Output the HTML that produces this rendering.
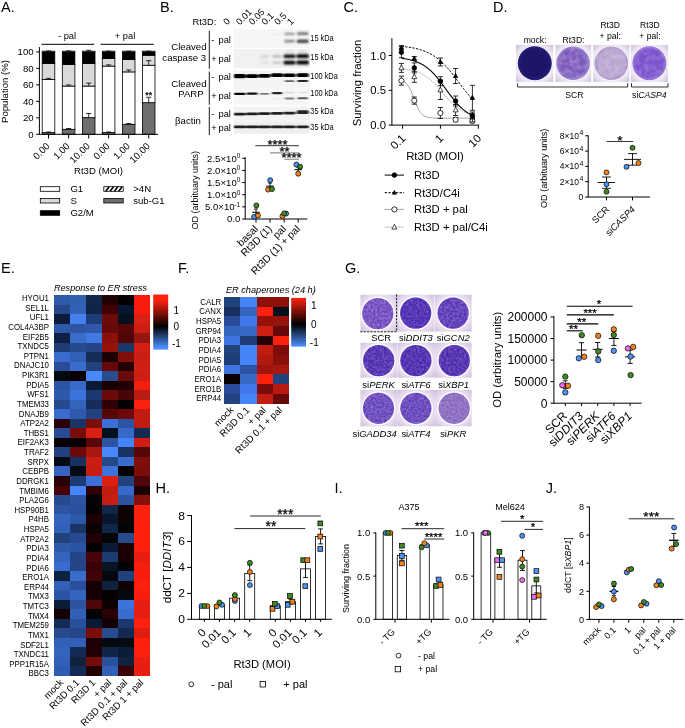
<!DOCTYPE html>
<html><head><meta charset="utf-8"><title>Figure</title>
<style>
html,body{margin:0;padding:0;background:#fff;}
svg{display:block;font-family:"Liberation Sans",sans-serif;}
</style></head><body>
<svg width="685" height="728" viewBox="0 0 685 728">
<rect x="0" y="0" width="685" height="728" fill="#fff"/>
<g id="panel_a">
<text x="1" y="11.6" font-size="14.5" text-anchor="start" fill="#000" >A.</text>
<text x="67" y="38.6" font-size="9.3" text-anchor="middle" fill="#000" >- pal</text>
<text x="125" y="38.6" font-size="9.3" text-anchor="middle" fill="#000" >+ pal</text>
<line x1="41.5" y1="44.3" x2="94.2" y2="44.3" stroke="#000" stroke-width="1" />
<line x1="100.5" y1="44.3" x2="153.8" y2="44.3" stroke="#000" stroke-width="1" />
<rect x="42.2" y="132.64" width="12.6" height="1.66" fill="#6e6e6e" stroke="#000" stroke-width="0.8" />
<rect x="42.2" y="79.39" width="12.6" height="53.25" fill="#ffffff" stroke="#000" stroke-width="0.8" />
<rect x="42.2" y="63.58" width="12.6" height="15.81" fill="#d9d9d9" stroke="#000" stroke-width="0.8" />
<rect x="42.2" y="51.93" width="12.6" height="11.65" fill="#000000" stroke="#000" stroke-width="0.8" />
<rect x="42.2" y="51.1" width="12.6" height="0.83" fill="#fff" stroke="#000" stroke-width="0.6" />
<line x1="48.5" y1="132.64" x2="48.5" y2="131.97" stroke="#000" stroke-width="0.8" />
<line x1="45.9" y1="131.97" x2="51.1" y2="131.97" stroke="#000" stroke-width="0.8" />
<line x1="48.5" y1="79.39" x2="48.5" y2="78.39" stroke="#000" stroke-width="0.8" />
<line x1="45.9" y1="78.39" x2="51.1" y2="78.39" stroke="#000" stroke-width="0.8" />
<line x1="48.5" y1="51.93" x2="48.5" y2="50.93" stroke="#000" stroke-width="0.8" />
<line x1="45.9" y1="50.93" x2="51.1" y2="50.93" stroke="#000" stroke-width="0.8" />
<rect x="62.3" y="129.31" width="12.6" height="4.99" fill="#6e6e6e" stroke="#000" stroke-width="0.8" />
<rect x="62.3" y="86.04" width="12.6" height="43.26" fill="#ffffff" stroke="#000" stroke-width="0.8" />
<rect x="62.3" y="64.41" width="12.6" height="21.63" fill="#d9d9d9" stroke="#000" stroke-width="0.8" />
<rect x="62.3" y="51.93" width="12.6" height="12.48" fill="#000000" stroke="#000" stroke-width="0.8" />
<rect x="62.3" y="51.1" width="12.6" height="0.83" fill="#fff" stroke="#000" stroke-width="0.6" />
<line x1="68.6" y1="129.31" x2="68.6" y2="128.48" stroke="#000" stroke-width="0.8" />
<line x1="66" y1="128.48" x2="71.2" y2="128.48" stroke="#000" stroke-width="0.8" />
<line x1="68.6" y1="86.04" x2="68.6" y2="84.96" stroke="#000" stroke-width="0.8" />
<line x1="66" y1="84.96" x2="71.2" y2="84.96" stroke="#000" stroke-width="0.8" />
<line x1="68.6" y1="51.93" x2="68.6" y2="50.85" stroke="#000" stroke-width="0.8" />
<line x1="66" y1="50.85" x2="71.2" y2="50.85" stroke="#000" stroke-width="0.8" />
<rect x="82.4" y="117.66" width="12.6" height="16.64" fill="#6e6e6e" stroke="#000" stroke-width="0.8" />
<rect x="82.4" y="86.04" width="12.6" height="31.62" fill="#ffffff" stroke="#000" stroke-width="0.8" />
<rect x="82.4" y="63.58" width="12.6" height="22.46" fill="#d9d9d9" stroke="#000" stroke-width="0.8" />
<rect x="82.4" y="51.52" width="12.6" height="12.06" fill="#000000" stroke="#000" stroke-width="0.8" />
<rect x="82.4" y="51.1" width="12.6" height="0.42" fill="#fff" stroke="#000" stroke-width="0.6" />
<line x1="88.7" y1="117.66" x2="88.7" y2="113.5" stroke="#000" stroke-width="0.8" />
<line x1="86.1" y1="113.5" x2="91.3" y2="113.5" stroke="#000" stroke-width="0.8" />
<line x1="88.7" y1="86.04" x2="88.7" y2="83.13" stroke="#000" stroke-width="0.8" />
<line x1="86.1" y1="83.13" x2="91.3" y2="83.13" stroke="#000" stroke-width="0.8" />
<line x1="88.7" y1="51.52" x2="88.7" y2="50.27" stroke="#000" stroke-width="0.8" />
<line x1="86.1" y1="50.27" x2="91.3" y2="50.27" stroke="#000" stroke-width="0.8" />
<rect x="102.3" y="132.64" width="12.6" height="1.66" fill="#6e6e6e" stroke="#000" stroke-width="0.8" />
<rect x="102.3" y="66.08" width="12.6" height="66.56" fill="#ffffff" stroke="#000" stroke-width="0.8" />
<rect x="102.3" y="58.59" width="12.6" height="7.49" fill="#d9d9d9" stroke="#000" stroke-width="0.8" />
<rect x="102.3" y="51.93" width="12.6" height="6.66" fill="#000000" stroke="#000" stroke-width="0.8" />
<rect x="102.3" y="51.1" width="12.6" height="0.83" fill="#fff" stroke="#000" stroke-width="0.6" />
<line x1="108.6" y1="132.64" x2="108.6" y2="131.97" stroke="#000" stroke-width="0.8" />
<line x1="106" y1="131.97" x2="111.2" y2="131.97" stroke="#000" stroke-width="0.8" />
<line x1="108.6" y1="66.08" x2="108.6" y2="64.83" stroke="#000" stroke-width="0.8" />
<line x1="106" y1="64.83" x2="111.2" y2="64.83" stroke="#000" stroke-width="0.8" />
<line x1="108.6" y1="51.93" x2="108.6" y2="51.1" stroke="#000" stroke-width="0.8" />
<line x1="106" y1="51.1" x2="111.2" y2="51.1" stroke="#000" stroke-width="0.8" />
<rect x="122.4" y="124.32" width="12.6" height="9.98" fill="#6e6e6e" stroke="#000" stroke-width="0.8" />
<rect x="122.4" y="71.9" width="12.6" height="52.42" fill="#ffffff" stroke="#000" stroke-width="0.8" />
<rect x="122.4" y="59.42" width="12.6" height="12.48" fill="#d9d9d9" stroke="#000" stroke-width="0.8" />
<rect x="122.4" y="51.93" width="12.6" height="7.49" fill="#000000" stroke="#000" stroke-width="0.8" />
<rect x="122.4" y="51.1" width="12.6" height="0.83" fill="#fff" stroke="#000" stroke-width="0.6" />
<line x1="128.7" y1="124.32" x2="128.7" y2="123.48" stroke="#000" stroke-width="0.8" />
<line x1="126.1" y1="123.48" x2="131.3" y2="123.48" stroke="#000" stroke-width="0.8" />
<line x1="128.7" y1="71.9" x2="128.7" y2="69.99" stroke="#000" stroke-width="0.8" />
<line x1="126.1" y1="69.99" x2="131.3" y2="69.99" stroke="#000" stroke-width="0.8" />
<line x1="128.7" y1="51.93" x2="128.7" y2="51.1" stroke="#000" stroke-width="0.8" />
<line x1="126.1" y1="51.1" x2="131.3" y2="51.1" stroke="#000" stroke-width="0.8" />
<rect x="142.4" y="102.68" width="12.6" height="31.62" fill="#6e6e6e" stroke="#000" stroke-width="0.8" />
<rect x="142.4" y="65.24" width="12.6" height="37.44" fill="#ffffff" stroke="#000" stroke-width="0.8" />
<rect x="142.4" y="55.26" width="12.6" height="9.98" fill="#d9d9d9" stroke="#000" stroke-width="0.8" />
<rect x="142.4" y="51.93" width="12.6" height="3.33" fill="#000000" stroke="#000" stroke-width="0.8" />
<rect x="142.4" y="51.1" width="12.6" height="0.83" fill="#fff" stroke="#000" stroke-width="0.6" />
<line x1="148.7" y1="102.68" x2="148.7" y2="97.28" stroke="#000" stroke-width="0.8" />
<line x1="146.1" y1="97.28" x2="151.3" y2="97.28" stroke="#000" stroke-width="0.8" />
<line x1="148.7" y1="65.24" x2="148.7" y2="60.67" stroke="#000" stroke-width="0.8" />
<line x1="146.1" y1="60.67" x2="151.3" y2="60.67" stroke="#000" stroke-width="0.8" />
<line x1="148.7" y1="51.93" x2="148.7" y2="51.1" stroke="#000" stroke-width="0.8" />
<line x1="146.1" y1="51.1" x2="151.3" y2="51.1" stroke="#000" stroke-width="0.8" />
<text x="148.7" y="97.74" font-size="8.9" text-anchor="middle" fill="#000" stroke="#000" stroke-width="0.25">**</text>
<line x1="39.4" y1="47.1" x2="39.4" y2="134.8" stroke="#000" stroke-width="1" />
<line x1="36.2" y1="134.3" x2="39.4" y2="134.3" stroke="#000" stroke-width="1" />
<text x="33.6" y="137.76" font-size="9.6" text-anchor="end" fill="#000" >0</text>
<line x1="36.2" y1="117.82" x2="39.4" y2="117.82" stroke="#000" stroke-width="1" />
<text x="33.6" y="121.28" font-size="9.6" text-anchor="end" fill="#000" >20</text>
<line x1="36.2" y1="101.34" x2="39.4" y2="101.34" stroke="#000" stroke-width="1" />
<text x="33.6" y="104.8" font-size="9.6" text-anchor="end" fill="#000" >40</text>
<line x1="36.2" y1="84.86" x2="39.4" y2="84.86" stroke="#000" stroke-width="1" />
<text x="33.6" y="88.32" font-size="9.6" text-anchor="end" fill="#000" >60</text>
<line x1="36.2" y1="68.38" x2="39.4" y2="68.38" stroke="#000" stroke-width="1" />
<text x="33.6" y="71.84" font-size="9.6" text-anchor="end" fill="#000" >80</text>
<line x1="36.2" y1="51.9" x2="39.4" y2="51.9" stroke="#000" stroke-width="1" />
<text x="33.6" y="55.36" font-size="9.6" text-anchor="end" fill="#000" >100</text>
<line x1="39.4" y1="134.3" x2="158" y2="134.3" stroke="#000" stroke-width="1" />
<line x1="48.5" y1="134.3" x2="48.5" y2="138.5" stroke="#000" stroke-width="1" />
<line x1="68.6" y1="134.3" x2="68.6" y2="138.5" stroke="#000" stroke-width="1" />
<line x1="88.7" y1="134.3" x2="88.7" y2="138.5" stroke="#000" stroke-width="1" />
<line x1="108.6" y1="134.3" x2="108.6" y2="138.5" stroke="#000" stroke-width="1" />
<line x1="128.7" y1="134.3" x2="128.7" y2="138.5" stroke="#000" stroke-width="1" />
<line x1="148.7" y1="134.3" x2="148.7" y2="138.5" stroke="#000" stroke-width="1" />
<text x="8.3" y="91.5" font-size="9.6" text-anchor="middle" fill="#000" transform="rotate(-90 8.3 91.5)" >Population (%)</text>
<text x="50.3" y="146.8" font-size="9.6" text-anchor="end" fill="#000" transform="rotate(-45 50.3 146.8)" >0.00</text>
<text x="70.4" y="146.8" font-size="9.6" text-anchor="end" fill="#000" transform="rotate(-45 70.4 146.8)" >1.00</text>
<text x="90.5" y="146.8" font-size="9.6" text-anchor="end" fill="#000" transform="rotate(-45 90.5 146.8)" >10.00</text>
<text x="110.4" y="146.8" font-size="9.6" text-anchor="end" fill="#000" transform="rotate(-45 110.4 146.8)" >0.00</text>
<text x="130.5" y="146.8" font-size="9.6" text-anchor="end" fill="#000" transform="rotate(-45 130.5 146.8)" >1.00</text>
<text x="150.5" y="146.8" font-size="9.6" text-anchor="end" fill="#000" transform="rotate(-45 150.5 146.8)" >10.00</text>
<text x="98.5" y="174.3" font-size="9.6" text-anchor="middle" fill="#000" >Rt3D (MOI)</text>
<rect x="40.3" y="186.7" width="19.4" height="4.6" fill="#fff" stroke="#000" stroke-width="0.8" />
<text x="70.4" y="192.4" font-size="9.6" text-anchor="start" fill="#000" >G1</text>
<rect x="40.3" y="198.4" width="19.4" height="4.6" fill="#d9d9d9" stroke="#000" stroke-width="0.8" />
<text x="70.4" y="204.1" font-size="9.6" text-anchor="start" fill="#000" >S</text>
<rect x="40.3" y="210.7" width="19.4" height="4.6" fill="#000" stroke="#000" stroke-width="0.8" />
<text x="70.4" y="216.4" font-size="9.6" text-anchor="start" fill="#000" >G2/M</text>
<rect x="103.8" y="186.7" width="19.4" height="4.6" fill="#fff" stroke="#000" stroke-width="0.8" />
<line x1="105.8" y1="191.3" x2="109.2" y2="186.7" stroke="#000" stroke-width="1.5" />
<line x1="110.1" y1="191.3" x2="113.5" y2="186.7" stroke="#000" stroke-width="1.5" />
<line x1="114.4" y1="191.3" x2="117.8" y2="186.7" stroke="#000" stroke-width="1.5" />
<line x1="118.7" y1="191.3" x2="122.1" y2="186.7" stroke="#000" stroke-width="1.5" />
<text x="133.2" y="192.4" font-size="9.6" text-anchor="start" fill="#000" >&gt;4N</text>
<rect x="103.8" y="198.4" width="19.4" height="4.6" fill="#6e6e6e" stroke="#000" stroke-width="0.8" />
<text x="133.2" y="204.1" font-size="9.6" text-anchor="start" fill="#000" >sub-G1</text>
</g>
<g id="panel_b">
<text x="160" y="11.5" font-size="14.5" text-anchor="start" fill="#000" >B.</text>
<text x="192.5" y="24.8" font-size="9.3" text-anchor="start" fill="#000" >Rt3D:</text>
<text x="227" y="25.5" font-size="9.3" text-anchor="start" fill="#000" transform="rotate(-45 227 25.5)" >0</text>
<text x="239.74" y="25.5" font-size="9.3" text-anchor="start" fill="#000" transform="rotate(-45 239.74 25.5)" >0.01</text>
<text x="252.48" y="25.5" font-size="9.3" text-anchor="start" fill="#000" transform="rotate(-45 252.48 25.5)" >0.05</text>
<text x="265.22" y="25.5" font-size="9.3" text-anchor="start" fill="#000" transform="rotate(-45 265.22 25.5)" >0.1</text>
<text x="277.96" y="25.5" font-size="9.3" text-anchor="start" fill="#000" transform="rotate(-45 277.96 25.5)" >0.5</text>
<text x="290.7" y="25.5" font-size="9.3" text-anchor="start" fill="#000" transform="rotate(-45 290.7 25.5)" >1</text>
<defs><filter id="blur" x="-20%" y="-80%" width="140%" height="260%"><feGaussianBlur stdDeviation="0.9 0.55"/></filter><filter id="blur2" x="-20%" y="-80%" width="140%" height="260%"><feGaussianBlur stdDeviation="1.2 0.8"/></filter></defs>
<rect x="233.5" y="29.2" width="76.5" height="18.6" fill="#f6f6f6" stroke="none" stroke-width="0.8" />
<rect x="233.5" y="49.1" width="76.5" height="19.2" fill="#f1f1f1" stroke="none" stroke-width="0.8" />
<rect x="233.5" y="70.5" width="76.5" height="17.1" fill="#f4f4f4" stroke="none" stroke-width="0.8" />
<rect x="233.5" y="88" width="76.5" height="16.7" fill="#f6f6f6" stroke="none" stroke-width="0.8" />
<rect x="233.5" y="106.6" width="76.5" height="14.2" fill="#f2f2f2" stroke="none" stroke-width="0.8" />
<rect x="233.5" y="121.4" width="76.5" height="12.2" fill="#efefef" stroke="none" stroke-width="0.8" />
<clipPath id="bc0"><rect x="233.5" y="29.2" width="76.5" height="18.6"/></clipPath>
<clipPath id="bc1"><rect x="233.5" y="49.1" width="76.5" height="19.2"/></clipPath>
<clipPath id="bc2"><rect x="233.5" y="70.5" width="76.5" height="17.1"/></clipPath>
<clipPath id="bc3"><rect x="233.5" y="88" width="76.5" height="16.7"/></clipPath>
<clipPath id="bc4"><rect x="233.5" y="106.6" width="76.5" height="14.2"/></clipPath>
<clipPath id="bc5"><rect x="233.5" y="121.4" width="76.5" height="12.2"/></clipPath>
<g clip-path="url(#bc0)"><g filter="url(#blur2)">
<rect x="273.1" y="33.4" width="8" height="1.6" rx="0.8" fill="#000" opacity="0.06"/>
<rect x="284.25" y="32.7" width="10.5" height="2.4" rx="1.2" fill="#000" opacity="0.42"/>
<rect x="296.95" y="32.3" width="11.5" height="2.8" rx="1.4" fill="#000" opacity="0.55"/>
<rect x="284.25" y="39.8" width="10.5" height="2.8" rx="1.4" fill="#000" opacity="0.45"/>
<rect x="296.7" y="39.4" width="12" height="3.6" rx="1.6" fill="#000" opacity="0.72"/>
</g></g>
<g clip-path="url(#bc1)"><g filter="url(#blur2)">
<rect x="285" y="51" width="9" height="1.6" rx="0.8" fill="#000" opacity="0.1"/>
<rect x="298.2" y="50.8" width="9" height="1.6" rx="0.8" fill="#000" opacity="0.14"/>
<rect x="260.15" y="55.6" width="8.5" height="2" rx="1" fill="#000" opacity="0.16"/>
<rect x="272.35" y="55.3" width="9.5" height="2.2" rx="1.1" fill="#000" opacity="0.26"/>
<rect x="283.5" y="54.6" width="12" height="3.4" rx="1.6" fill="#000" opacity="0.95"/>
<rect x="296.45" y="54.2" width="12.5" height="3.8" rx="1.6" fill="#000" opacity="1"/>
<rect x="260.15" y="61.8" width="8.5" height="2" rx="1" fill="#000" opacity="0.1"/>
<rect x="272.35" y="61.7" width="9.5" height="2.2" rx="1.1" fill="#000" opacity="0.2"/>
<rect x="283.5" y="60.7" width="12" height="3.8" rx="1.6" fill="#000" opacity="1"/>
<rect x="296.45" y="60.6" width="12.5" height="4" rx="1.6" fill="#000" opacity="1"/>
<rect x="284.5" y="61.5" width="10" height="2.2" rx="1.1" fill="#000" opacity="0.6"/>
<rect x="297.7" y="61.4" width="10" height="2.4" rx="1.2" fill="#000" opacity="0.7"/>
</g></g>
<g clip-path="url(#bc2)"><g filter="url(#blur)">
<rect x="233.6" y="74.03" width="12.2" height="4.14" rx="1.6" fill="#000" opacity="1"/>
<rect x="234.2" y="74.72" width="11" height="2.76" rx="1.38" fill="#000" opacity="1"/>
<rect x="246" y="74.21" width="12.2" height="3.78" rx="1.6" fill="#000" opacity="1"/>
<rect x="246.6" y="74.84" width="11" height="2.52" rx="1.26" fill="#000" opacity="1"/>
<rect x="258.3" y="74.1" width="12.2" height="3.6" rx="1.6" fill="#000" opacity="1"/>
<rect x="258.9" y="74.7" width="11" height="2.4" rx="1.2" fill="#000" opacity="1"/>
<rect x="271" y="73.31" width="12.2" height="3.78" rx="1.6" fill="#000" opacity="1"/>
<rect x="271.6" y="73.94" width="11" height="2.52" rx="1.26" fill="#000" opacity="1"/>
<rect x="283.4" y="73.59" width="12.2" height="3.42" rx="1.6" fill="#000" opacity="1"/>
<rect x="284" y="74.16" width="11" height="2.28" rx="1.14" fill="#000" opacity="1"/>
<rect x="296.6" y="73.21" width="12.2" height="3.78" rx="1.6" fill="#000" opacity="1"/>
<rect x="297.2" y="73.84" width="11" height="2.52" rx="1.26" fill="#000" opacity="1"/>
<rect x="284.75" y="80.3" width="9.5" height="1.8" rx="0.9" fill="#000" opacity="0.6"/>
<rect x="297.2" y="79.9" width="11" height="2.2" rx="1.1" fill="#000" opacity="0.85"/>
</g></g>
<g clip-path="url(#bc3)"><g filter="url(#blur)">
<rect x="233.95" y="92.7" width="11.5" height="2.4" rx="1.2" fill="#000" opacity="1"/>
<rect x="246.6" y="92.55" width="11" height="2.3" rx="1.15" fill="#000" opacity="0.95"/>
<rect x="259.65" y="92.95" width="9.5" height="1.9" rx="0.95" fill="#000" opacity="0.5"/>
<rect x="271.85" y="92.1" width="10.5" height="2.2" rx="1.1" fill="#000" opacity="0.85"/>
<rect x="285.25" y="91.9" width="8.5" height="1.4" rx="0.7" fill="#000" opacity="0.14"/>
<rect x="298.45" y="91.9" width="8.5" height="1.4" rx="0.7" fill="#000" opacity="0.1"/>
<rect x="273.1" y="98.2" width="8" height="1.2" rx="0.6" fill="#000" opacity="0.06"/>
<rect x="284.75" y="97.6" width="9.5" height="1.8" rx="0.9" fill="#000" opacity="0.5"/>
<rect x="297.45" y="97.3" width="10.5" height="2" rx="1" fill="#000" opacity="0.65"/>
</g></g>
<g clip-path="url(#bc4)"><g filter="url(#blur)">
<rect x="233.6" y="112.85" width="12.2" height="2.7" rx="1.35" fill="#000" opacity="0.86"/>
<rect x="246" y="112.55" width="12.2" height="2.7" rx="1.35" fill="#000" opacity="0.86"/>
<rect x="258.3" y="112.35" width="12.2" height="2.7" rx="1.35" fill="#000" opacity="0.86"/>
<rect x="271" y="112.05" width="12.2" height="2.7" rx="1.35" fill="#000" opacity="0.86"/>
<rect x="283.4" y="111.75" width="12.2" height="2.7" rx="1.35" fill="#000" opacity="0.86"/>
<rect x="296.6" y="110.3" width="12.2" height="3.8" rx="1.6" fill="#000" opacity="0.86"/>
</g></g>
<g clip-path="url(#bc5)"><g filter="url(#blur)">
<rect x="233.4" y="125.45" width="12.6" height="2.9" rx="1.45" fill="#000" opacity="0.86"/>
<rect x="245.8" y="125.45" width="12.6" height="2.9" rx="1.45" fill="#000" opacity="0.86"/>
<rect x="258.1" y="125.45" width="12.6" height="2.9" rx="1.45" fill="#000" opacity="0.86"/>
<rect x="270.8" y="125.45" width="12.6" height="2.9" rx="1.45" fill="#000" opacity="0.86"/>
<rect x="283.2" y="125.45" width="12.6" height="2.9" rx="1.45" fill="#000" opacity="0.86"/>
<rect x="296.4" y="125.45" width="12.6" height="2.9" rx="1.45" fill="#000" opacity="0.86"/>
</g></g>
<line x1="209.3" y1="30.7" x2="209.3" y2="68.7" stroke="#000" stroke-width="0.9" />
<line x1="209.3" y1="71.5" x2="209.3" y2="104.7" stroke="#000" stroke-width="0.9" />
<line x1="209.3" y1="107" x2="209.3" y2="135" stroke="#000" stroke-width="0.9" />
<text x="188.9" y="50.2" font-size="9.6" text-anchor="middle" fill="#000" >Cleaved</text>
<text x="184.2" y="61.2" font-size="9.6" text-anchor="middle" fill="#000" >caspase 3</text>
<text x="188.9" y="86.8" font-size="9.6" text-anchor="middle" fill="#000" >Cleaved</text>
<text x="191" y="96.9" font-size="9.6" text-anchor="middle" fill="#000" >PARP</text>
<text x="188" y="124.2" font-size="9.6" text-anchor="middle" fill="#000" >&#946;actin</text>
<text x="211.3" y="42.5" font-size="9.3" text-anchor="start" fill="#000" >-</text>
<text x="218.5" y="42.5" font-size="9.3" text-anchor="start" fill="#000" >pal</text>
<text x="211.3" y="62" font-size="9.3" text-anchor="start" fill="#000" >+</text>
<text x="218.5" y="62" font-size="9.3" text-anchor="start" fill="#000" >pal</text>
<text x="211.3" y="79.7" font-size="9.3" text-anchor="start" fill="#000" >-</text>
<text x="218.5" y="79.7" font-size="9.3" text-anchor="start" fill="#000" >pal</text>
<text x="211.3" y="98.6" font-size="9.3" text-anchor="start" fill="#000" >+</text>
<text x="218.5" y="98.6" font-size="9.3" text-anchor="start" fill="#000" >pal</text>
<text x="211.3" y="117" font-size="9.3" text-anchor="start" fill="#000" >-</text>
<text x="218.5" y="117" font-size="9.3" text-anchor="start" fill="#000" >pal</text>
<text x="211.3" y="131.3" font-size="9.3" text-anchor="start" fill="#000" >+</text>
<text x="218.5" y="131.3" font-size="9.3" text-anchor="start" fill="#000" >pal</text>
<text x="0" y="0" font-size="8.2" text-anchor="start" fill="#000" transform="translate(310.3 40.8) scale(0.9 1)" >15 kDa</text>
<text x="0" y="0" font-size="8.2" text-anchor="start" fill="#000" transform="translate(310.3 60.1) scale(0.9 1)" >15 kDa</text>
<text x="0" y="0" font-size="8.2" text-anchor="start" fill="#000" transform="translate(310.3 79.1) scale(0.9 1)" >100 kDa</text>
<text x="0" y="0" font-size="8.2" text-anchor="start" fill="#000" transform="translate(310.3 95.8) scale(0.9 1)" >100 kDa</text>
<text x="0" y="0" font-size="8.2" text-anchor="start" fill="#000" transform="translate(310.3 114.2) scale(0.9 1)" >35 kDa</text>
<text x="0" y="0" font-size="8.2" text-anchor="start" fill="#000" transform="translate(310.3 129.8) scale(0.9 1)" >35 kDa</text>
<line x1="245.2" y1="157.1" x2="245.2" y2="219.5" stroke="#000" stroke-width="1" />
<line x1="242.2" y1="219" x2="245.2" y2="219" stroke="#000" stroke-width="1" />
<line x1="242.2" y1="206.86" x2="245.2" y2="206.86" stroke="#000" stroke-width="1" />
<line x1="242.2" y1="194.72" x2="245.2" y2="194.72" stroke="#000" stroke-width="1" />
<line x1="242.2" y1="182.58" x2="245.2" y2="182.58" stroke="#000" stroke-width="1" />
<line x1="242.2" y1="170.44" x2="245.2" y2="170.44" stroke="#000" stroke-width="1" />
<line x1="242.2" y1="158.3" x2="245.2" y2="158.3" stroke="#000" stroke-width="1" />
<text x="240.3" y="222.4" font-size="9.6" text-anchor="end" fill="#000" >0.0</text>
<text x="240.3" y="210.26" font-size="9.6" text-anchor="end">5.0&#215;10<tspan font-size="6.4" dy="-3.6">-1</tspan></text>
<text x="240.3" y="198.12" font-size="9.6" text-anchor="end">1.0&#215;10<tspan font-size="6.4" dy="-3.6">0</tspan></text>
<text x="240.3" y="185.98" font-size="9.6" text-anchor="end">1.5&#215;10<tspan font-size="6.4" dy="-3.6">0</tspan></text>
<text x="240.3" y="173.84" font-size="9.6" text-anchor="end">2.0&#215;10<tspan font-size="6.4" dy="-3.6">0</tspan></text>
<text x="240.3" y="161.7" font-size="9.6" text-anchor="end">2.5&#215;10<tspan font-size="6.4" dy="-3.6">0</tspan></text>
<line x1="245.2" y1="219" x2="307.3" y2="219" stroke="#000" stroke-width="1" />
<line x1="256" y1="219" x2="256" y2="222.6" stroke="#000" stroke-width="1" />
<line x1="270" y1="219" x2="270" y2="222.6" stroke="#000" stroke-width="1" />
<line x1="284.2" y1="219" x2="284.2" y2="222.6" stroke="#000" stroke-width="1" />
<line x1="298.2" y1="219" x2="298.2" y2="222.6" stroke="#000" stroke-width="1" />
<text x="198.3" y="190.3" font-size="9" text-anchor="middle" fill="#000" transform="rotate(-90 198.3 190.3)" >OD (arbituary units)</text>
<text x="258.6" y="229.6" font-size="10.3" text-anchor="end" fill="#000" transform="rotate(-45 258.6 229.6)" >basal</text>
<text x="272.6" y="229.6" font-size="10.3" text-anchor="end" fill="#000" transform="rotate(-45 272.6 229.6)" >Rt3D (1)</text>
<text x="286.8" y="229.6" font-size="10.3" text-anchor="end" fill="#000" transform="rotate(-45 286.8 229.6)" >pal</text>
<text x="300.8" y="229.6" font-size="10.3" text-anchor="end" fill="#000" transform="rotate(-45 300.8 229.6)" >Rt3D (1) + pal</text>
<line x1="256" y1="209" x2="256" y2="215.6" stroke="#000" stroke-width="0.9" />
<line x1="254" y1="209" x2="258" y2="209" stroke="#000" stroke-width="0.9" />
<line x1="254" y1="215.6" x2="258" y2="215.6" stroke="#000" stroke-width="0.9" />
<line x1="252.2" y1="212.3" x2="259.8" y2="212.3" stroke="#000" stroke-width="1" />
<line x1="270" y1="183" x2="270" y2="189.2" stroke="#000" stroke-width="0.9" />
<line x1="268" y1="183" x2="272" y2="183" stroke="#000" stroke-width="0.9" />
<line x1="268" y1="189.2" x2="272" y2="189.2" stroke="#000" stroke-width="0.9" />
<line x1="266.2" y1="186.1" x2="273.8" y2="186.1" stroke="#000" stroke-width="1" />
<line x1="280.4" y1="214.5" x2="288" y2="214.5" stroke="#000" stroke-width="1" />
<line x1="298.2" y1="167" x2="298.2" y2="172.4" stroke="#000" stroke-width="0.9" />
<line x1="296.2" y1="167" x2="300.2" y2="167" stroke="#000" stroke-width="0.9" />
<line x1="296.2" y1="172.4" x2="300.2" y2="172.4" stroke="#000" stroke-width="0.9" />
<line x1="294.4" y1="169.7" x2="302" y2="169.7" stroke="#000" stroke-width="1" />
<circle cx="256.4" cy="205.4" r="2.5" fill="#3f8a22" stroke="#000" stroke-width="0.7" />
<circle cx="254.1" cy="216.9" r="2.5" fill="#4c93f2" stroke="#000" stroke-width="0.7" />
<circle cx="258" cy="215.5" r="2.5" fill="#f5821f" stroke="#000" stroke-width="0.7" />
<circle cx="270.2" cy="180.2" r="2.5" fill="#4c93f2" stroke="#000" stroke-width="0.7" />
<circle cx="268.1" cy="189.6" r="2.5" fill="#f5821f" stroke="#000" stroke-width="0.7" />
<circle cx="272" cy="189.1" r="2.5" fill="#3f8a22" stroke="#000" stroke-width="0.7" />
<circle cx="282.4" cy="216.2" r="2.5" fill="#f5821f" stroke="#000" stroke-width="0.7" />
<circle cx="286.1" cy="213.6" r="2.5" fill="#4c93f2" stroke="#000" stroke-width="0.7" />
<circle cx="284.2" cy="213.4" r="2.5" fill="#3f8a22" stroke="#000" stroke-width="0.7" />
<circle cx="296.4" cy="164.6" r="2.5" fill="#4c93f2" stroke="#000" stroke-width="0.7" />
<circle cx="300.1" cy="166.7" r="2.5" fill="#3f8a22" stroke="#000" stroke-width="0.7" />
<circle cx="298.2" cy="173.7" r="2.5" fill="#f5821f" stroke="#000" stroke-width="0.7" />
<line x1="255.3" y1="145.7" x2="299" y2="145.7" stroke="#000" stroke-width="0.8" />
<text x="277.5" y="148.63" font-size="13" text-anchor="middle" fill="#000" stroke="#000" stroke-width="0.25">****</text>
<line x1="270" y1="152.9" x2="299" y2="152.9" stroke="#555" stroke-width="0.8" />
<text x="284.5" y="155.63" font-size="13" text-anchor="middle" fill="#000" stroke="#000" stroke-width="0.25">**</text>
<line x1="284.2" y1="159.2" x2="299" y2="159.2" stroke="#555" stroke-width="0.8" />
<text x="291.5" y="162.33" font-size="13" text-anchor="middle" fill="#000" stroke="#000" stroke-width="0.25">****</text>
</g>
<g id="panel_c">
<text x="343.5" y="11.5" font-size="14.5" text-anchor="start" fill="#000" >C.</text>
<line x1="391.9" y1="38.2" x2="391.9" y2="125.6" stroke="#000" stroke-width="1" />
<line x1="388.7" y1="125.1" x2="391.9" y2="125.1" stroke="#000" stroke-width="1" />
<text x="386" y="129.17" font-size="11.3" text-anchor="end" fill="#000" >0.0</text>
<line x1="388.7" y1="90.3" x2="391.9" y2="90.3" stroke="#000" stroke-width="1" />
<text x="386" y="94.37" font-size="11.3" text-anchor="end" fill="#000" >0.5</text>
<line x1="388.7" y1="55.5" x2="391.9" y2="55.5" stroke="#000" stroke-width="1" />
<text x="386" y="59.57" font-size="11.3" text-anchor="end" fill="#000" >1.0</text>
<line x1="391.9" y1="125.1" x2="479.2" y2="125.1" stroke="#000" stroke-width="1" />
<line x1="402.6" y1="125.1" x2="402.6" y2="128.7" stroke="#000" stroke-width="1" />
<line x1="440.45" y1="125.1" x2="440.45" y2="128.7" stroke="#000" stroke-width="1" />
<line x1="478.3" y1="125.1" x2="478.3" y2="128.7" stroke="#000" stroke-width="1" />
<text x="361.3" y="83" font-size="11.3" text-anchor="middle" fill="#000" transform="rotate(-90 361.3 83)" >Surviving fraction</text>
<text x="406.2" y="139" font-size="11.3" text-anchor="end" fill="#000" transform="rotate(-45 406.2 139)" >0.1</text>
<text x="444.05" y="139" font-size="11.3" text-anchor="end" fill="#000" transform="rotate(-45 444.05 139)" >1</text>
<text x="481.9" y="139" font-size="11.3" text-anchor="end" fill="#000" transform="rotate(-45 481.9 139)" >10</text>
<text x="435" y="160" font-size="11.3" text-anchor="middle" fill="#000" >Rt3D (MOI)</text>
<polyline points="401.41,68.47 402.6,68.6 403.79,68.74 404.98,68.9 406.17,69.08 407.36,69.27 408.56,69.48 409.75,69.72 410.94,69.98 412.13,70.26 413.32,70.58 414.51,70.92 415.71,71.3 416.9,71.72 418.09,72.18 419.28,72.67 420.47,73.22 421.66,73.81 422.85,74.45 424.05,75.14 425.24,75.88 426.43,76.68 427.62,77.54 428.81,78.46 430,79.43 431.2,80.46 432.39,81.55 433.58,82.69 434.77,83.88 435.96,85.11 437.15,86.39 438.35,87.7 439.54,89.04 440.73,90.4 441.92,91.78 443.11,93.16 444.3,94.54 445.49,95.9 446.69,97.25 447.88,98.58 449.07,99.87 450.26,101.12 451.45,102.33 452.64,103.49 453.84,104.59 455.03,105.65 456.22,106.64 457.41,107.58 458.6,108.46 459.79,109.28 460.98,110.05 462.18,110.76 463.37,111.42 464.56,112.03 465.75,112.59 466.94,113.11 468.13,113.58 469.33,114.01 470.52,114.41 471.71,114.76 472.9,115.09" fill="none" stroke="#8a8a8a" stroke-width="0.8" stroke-dasharray="1.6 1.1"/>
<polyline points="401.41,80.37 402.6,80.81 403.79,81.41 404.98,82.21 406.17,83.26 407.36,84.62 408.56,86.34 409.75,88.45 410.94,90.95 412.13,93.79 413.32,96.87 414.51,100.04 415.71,103.14 416.9,106.01 418.09,108.56 419.28,110.72 420.47,112.48 421.66,113.89 422.85,114.97 424.05,115.8 425.24,116.42 426.43,116.89 427.62,117.23 428.81,117.48 430,117.66 431.2,117.79 432.39,117.89 433.58,117.96 434.77,118.01 435.96,118.04 437.15,118.07 438.35,118.09 439.54,118.1 440.73,118.11 441.92,118.12 443.11,118.13 444.3,118.13 445.49,118.13 446.69,118.13 447.88,118.14 449.07,118.14 450.26,118.14 451.45,118.14 452.64,118.14 453.84,118.14 455.03,118.14 456.22,118.14 457.41,118.14 458.6,118.14 459.79,118.14 460.98,118.14 462.18,118.14 463.37,118.14 464.56,118.14 465.75,118.14 466.94,118.14 468.13,118.14 469.33,118.14 470.52,118.14 471.71,118.14 472.9,118.14" fill="none" stroke="#8a8a8a" stroke-width="0.8"/>
<polyline points="401.41,46.35 402.6,46.46 403.79,46.58 404.98,46.7 406.17,46.84 407.36,47 408.56,47.16 409.75,47.34 410.94,47.53 412.13,47.73 413.32,47.96 414.51,48.2 415.71,48.46 416.9,48.74 418.09,49.05 419.28,49.37 420.47,49.72 421.66,50.1 422.85,50.51 424.05,50.95 425.24,51.42 426.43,51.92 427.62,52.46 428.81,53.03 430,53.65 431.2,54.31 432.39,55.01 433.58,55.75 434.77,56.54 435.96,57.38 437.15,58.26 438.35,59.2 439.54,60.19 440.73,61.22 441.92,62.31 443.11,63.45 444.3,64.64 445.49,65.88 446.69,67.17 447.88,68.5 449.07,69.88 450.26,71.3 451.45,72.75 452.64,74.24 453.84,75.76 455.03,77.31 456.22,78.87 457.41,80.45 458.6,82.04 459.79,83.64 460.98,85.23 462.18,86.82 463.37,88.4 464.56,89.95 465.75,91.49 466.94,93 468.13,94.48 469.33,95.92 470.52,97.32 471.71,98.68 472.9,100" fill="none" stroke="#000" stroke-width="1" stroke-dasharray="2.4 1.3"/>
<polyline points="401.41,58.31 402.6,58.46 403.79,58.62 404.98,58.8 406.17,59 407.36,59.22 408.56,59.46 409.75,59.72 410.94,60.01 412.13,60.32 413.32,60.67 414.51,61.05 415.71,61.46 416.9,61.91 418.09,62.4 419.28,62.93 420.47,63.51 421.66,64.14 422.85,64.82 424.05,65.55 425.24,66.34 426.43,67.19 427.62,68.1 428.81,69.07 430,70.1 431.2,71.2 432.39,72.37 433.58,73.59 434.77,74.88 435.96,76.23 437.15,77.63 438.35,79.09 439.54,80.59 440.73,82.14 441.92,83.71 443.11,85.32 444.3,86.95 445.49,88.59 446.69,90.23 447.88,91.86 449.07,93.49 450.26,95.09 451.45,96.66 452.64,98.2 453.84,99.69 455.03,101.14 456.22,102.53 457.41,103.87 458.6,105.15 459.79,106.36 460.98,107.51 462.18,108.6 463.37,109.63 464.56,110.59 465.75,111.48 466.94,112.32 468.13,113.1 469.33,113.82 470.52,114.49 471.71,115.11 472.9,115.68" fill="none" stroke="#000" stroke-width="1.1"/>
<line x1="401.4" y1="76.2" x2="401.4" y2="85.2" stroke="#000" stroke-width="0.8" />
<line x1="398.8" y1="76.2" x2="404" y2="76.2" stroke="#000" stroke-width="0.8" />
<line x1="398.8" y1="85.2" x2="404" y2="85.2" stroke="#000" stroke-width="0.8" />
<line x1="414.3" y1="97" x2="414.3" y2="104.2" stroke="#000" stroke-width="0.8" />
<line x1="411.7" y1="97" x2="416.9" y2="97" stroke="#000" stroke-width="0.8" />
<line x1="411.7" y1="104.2" x2="416.9" y2="104.2" stroke="#000" stroke-width="0.8" />
<line x1="440.4" y1="107.5" x2="440.4" y2="118.5" stroke="#000" stroke-width="0.8" />
<line x1="437.8" y1="107.5" x2="443" y2="107.5" stroke="#000" stroke-width="0.8" />
<line x1="437.8" y1="118.5" x2="443" y2="118.5" stroke="#000" stroke-width="0.8" />
<line x1="455.6" y1="117.7" x2="455.6" y2="121.7" stroke="#000" stroke-width="0.8" />
<line x1="453" y1="117.7" x2="458.2" y2="117.7" stroke="#000" stroke-width="0.8" />
<line x1="453" y1="121.7" x2="458.2" y2="121.7" stroke="#000" stroke-width="0.8" />
<line x1="472.4" y1="119.4" x2="472.4" y2="122.6" stroke="#000" stroke-width="0.8" />
<line x1="469.8" y1="119.4" x2="475" y2="119.4" stroke="#000" stroke-width="0.8" />
<line x1="469.8" y1="122.6" x2="475" y2="122.6" stroke="#000" stroke-width="0.8" />
<circle cx="401.4" cy="80.7" r="2.6" fill="#fff" stroke="#000" stroke-width="0.8" />
<circle cx="414.3" cy="100.6" r="2.6" fill="#fff" stroke="#000" stroke-width="0.8" />
<circle cx="440.4" cy="113" r="2.6" fill="#fff" stroke="#000" stroke-width="0.8" />
<circle cx="455.6" cy="119.7" r="2.6" fill="#fff" stroke="#000" stroke-width="0.8" />
<circle cx="472.4" cy="121" r="2.6" fill="#fff" stroke="#000" stroke-width="0.8" />
<line x1="401.4" y1="63.4" x2="401.4" y2="72.4" stroke="#000" stroke-width="0.8" />
<line x1="398.8" y1="63.4" x2="404" y2="63.4" stroke="#000" stroke-width="0.8" />
<line x1="398.8" y1="72.4" x2="404" y2="72.4" stroke="#000" stroke-width="0.8" />
<line x1="414.3" y1="71.3" x2="414.3" y2="82.3" stroke="#000" stroke-width="0.8" />
<line x1="411.7" y1="71.3" x2="416.9" y2="71.3" stroke="#000" stroke-width="0.8" />
<line x1="411.7" y1="82.3" x2="416.9" y2="82.3" stroke="#000" stroke-width="0.8" />
<line x1="440.4" y1="80.5" x2="440.4" y2="99.5" stroke="#000" stroke-width="0.8" />
<line x1="437.8" y1="80.5" x2="443" y2="80.5" stroke="#000" stroke-width="0.8" />
<line x1="437.8" y1="99.5" x2="443" y2="99.5" stroke="#000" stroke-width="0.8" />
<line x1="455.6" y1="104.5" x2="455.6" y2="115.5" stroke="#000" stroke-width="0.8" />
<line x1="453" y1="104.5" x2="458.2" y2="104.5" stroke="#000" stroke-width="0.8" />
<line x1="453" y1="115.5" x2="458.2" y2="115.5" stroke="#000" stroke-width="0.8" />
<line x1="472.4" y1="112" x2="472.4" y2="122" stroke="#000" stroke-width="0.8" />
<line x1="469.8" y1="112" x2="475" y2="112" stroke="#000" stroke-width="0.8" />
<line x1="469.8" y1="122" x2="475" y2="122" stroke="#000" stroke-width="0.8" />
<polygon points="401.4,65.03 398.9,69.78 403.9,69.78" fill="#fff" stroke="#000" stroke-width="0.7"/>
<polygon points="414.3,73.92 411.8,78.67 416.8,78.67" fill="#fff" stroke="#000" stroke-width="0.7"/>
<polygon points="440.4,87.12 437.9,91.88 442.9,91.88" fill="#fff" stroke="#000" stroke-width="0.7"/>
<polygon points="455.6,107.12 453.1,111.88 458.1,111.88" fill="#fff" stroke="#000" stroke-width="0.7"/>
<polygon points="472.4,114.12 469.9,118.88 474.9,118.88" fill="#fff" stroke="#000" stroke-width="0.7"/>
<line x1="401.4" y1="45.6" x2="401.4" y2="49.6" stroke="#000" stroke-width="0.8" />
<line x1="398.8" y1="45.6" x2="404" y2="45.6" stroke="#000" stroke-width="0.8" />
<line x1="398.8" y1="49.6" x2="404" y2="49.6" stroke="#000" stroke-width="0.8" />
<line x1="414.3" y1="56.5" x2="414.3" y2="60.5" stroke="#000" stroke-width="0.8" />
<line x1="411.7" y1="56.5" x2="416.9" y2="56.5" stroke="#000" stroke-width="0.8" />
<line x1="411.7" y1="60.5" x2="416.9" y2="60.5" stroke="#000" stroke-width="0.8" />
<line x1="440.4" y1="58" x2="440.4" y2="66" stroke="#000" stroke-width="0.8" />
<line x1="437.8" y1="58" x2="443" y2="58" stroke="#000" stroke-width="0.8" />
<line x1="437.8" y1="66" x2="443" y2="66" stroke="#000" stroke-width="0.8" />
<line x1="455.6" y1="68.5" x2="455.6" y2="83.5" stroke="#000" stroke-width="0.8" />
<line x1="453" y1="68.5" x2="458.2" y2="68.5" stroke="#000" stroke-width="0.8" />
<line x1="453" y1="83.5" x2="458.2" y2="83.5" stroke="#000" stroke-width="0.8" />
<line x1="472.4" y1="85.3" x2="472.4" y2="110.3" stroke="#000" stroke-width="0.8" />
<line x1="469.8" y1="85.3" x2="475" y2="85.3" stroke="#000" stroke-width="0.8" />
<line x1="469.8" y1="110.3" x2="475" y2="110.3" stroke="#000" stroke-width="0.8" />
<polygon points="401.4,45.07 399.2,49.25 403.6,49.25" fill="#000" stroke="#000" stroke-width="0.7"/>
<polygon points="414.3,55.97 412.1,60.15 416.5,60.15" fill="#000" stroke="#000" stroke-width="0.7"/>
<polygon points="440.4,59.47 438.2,63.65 442.6,63.65" fill="#000" stroke="#000" stroke-width="0.7"/>
<polygon points="455.6,73.47 453.4,77.65 457.8,77.65" fill="#000" stroke="#000" stroke-width="0.7"/>
<polygon points="472.4,95.27 470.2,99.45 474.6,99.45" fill="#000" stroke="#000" stroke-width="0.7"/>
<line x1="401.4" y1="46.7" x2="401.4" y2="57.7" stroke="#000" stroke-width="0.8" />
<line x1="398.8" y1="46.7" x2="404" y2="46.7" stroke="#000" stroke-width="0.8" />
<line x1="398.8" y1="57.7" x2="404" y2="57.7" stroke="#000" stroke-width="0.8" />
<line x1="414.3" y1="62.9" x2="414.3" y2="72.9" stroke="#000" stroke-width="0.8" />
<line x1="411.7" y1="62.9" x2="416.9" y2="62.9" stroke="#000" stroke-width="0.8" />
<line x1="411.7" y1="72.9" x2="416.9" y2="72.9" stroke="#000" stroke-width="0.8" />
<line x1="440.4" y1="76.7" x2="440.4" y2="85.7" stroke="#000" stroke-width="0.8" />
<line x1="437.8" y1="76.7" x2="443" y2="76.7" stroke="#000" stroke-width="0.8" />
<line x1="437.8" y1="85.7" x2="443" y2="85.7" stroke="#000" stroke-width="0.8" />
<line x1="455.6" y1="96" x2="455.6" y2="106" stroke="#000" stroke-width="0.8" />
<line x1="453" y1="96" x2="458.2" y2="96" stroke="#000" stroke-width="0.8" />
<line x1="453" y1="106" x2="458.2" y2="106" stroke="#000" stroke-width="0.8" />
<line x1="472.4" y1="113.3" x2="472.4" y2="118.3" stroke="#000" stroke-width="0.8" />
<line x1="469.8" y1="113.3" x2="475" y2="113.3" stroke="#000" stroke-width="0.8" />
<line x1="469.8" y1="118.3" x2="475" y2="118.3" stroke="#000" stroke-width="0.8" />
<circle cx="401.4" cy="52.2" r="2.3" fill="#000" stroke="#000" stroke-width="0.8" />
<circle cx="414.3" cy="67.9" r="2.3" fill="#000" stroke="#000" stroke-width="0.8" />
<circle cx="440.4" cy="81.2" r="2.3" fill="#000" stroke="#000" stroke-width="0.8" />
<circle cx="455.6" cy="101" r="2.3" fill="#000" stroke="#000" stroke-width="0.8" />
<circle cx="472.4" cy="115.8" r="2.3" fill="#000" stroke="#000" stroke-width="0.8" />
<line x1="384.7" y1="175.1" x2="404" y2="175.1" stroke="#000" stroke-width="1" />
<circle cx="394.4" cy="175.1" r="2.3" fill="#000" stroke="#000" stroke-width="0.8" />
<text x="414" y="179.1" font-size="11.3" text-anchor="start" fill="#000" >Rt3D</text>
<line x1="384.7" y1="192.7" x2="404" y2="192.7" stroke="#000" stroke-width="1" stroke-dasharray="2.4 1.3"/>
<polygon points="394.4,190.4 392.4,194.2 396.4,194.2" fill="#000" stroke="#000" stroke-width="0.7"/>
<text x="414" y="196.7" font-size="11.3" text-anchor="start" fill="#000" >Rt3D/C4i</text>
<line x1="384.7" y1="209.4" x2="404" y2="209.4" stroke="#8a8a8a" stroke-width="0.8" />
<circle cx="394.4" cy="209.4" r="2.6" fill="#fff" stroke="#000" stroke-width="0.8" />
<text x="414" y="213.4" font-size="11.3" text-anchor="start" fill="#000" >Rt3D + pal</text>
<line x1="384.7" y1="227.2" x2="404" y2="227.2" stroke="#8a8a8a" stroke-width="0.8" stroke-dasharray="1.6 1.1"/>
<polygon points="394.4,224.32 391.9,229.07 396.9,229.07" fill="#fff" stroke="#000" stroke-width="0.7"/>
<text x="414" y="231.2" font-size="11.3" text-anchor="start" fill="#000" >Rt3D + pal/C4i</text>
</g>
<g id="panel_d">
<text x="493" y="11.5" font-size="14.5" text-anchor="start" fill="#000" >D.</text>
<text x="535.1" y="43" font-size="8.6" text-anchor="middle" fill="#000" >mock:</text>
<text x="573.5" y="43" font-size="8.6" text-anchor="middle" fill="#000" >Rt3D:</text>
<text x="610.2" y="28.2" font-size="8.6" text-anchor="middle" fill="#000" >Rt3D</text>
<text x="610.2" y="39.4" font-size="8.6" text-anchor="middle" fill="#000" >+ pal:</text>
<text x="649.9" y="28.2" font-size="8.6" text-anchor="middle" fill="#000" >Rt3D</text>
<text x="649.9" y="39.4" font-size="8.6" text-anchor="middle" fill="#000" >+ pal:</text>
<defs><clipPath id="wc0"><circle cx="534.8" cy="63.3" r="17"/></clipPath>
<clipPath id="wt0"><rect x="516" y="44.7" width="37.4" height="37.2"/></clipPath>
<filter id="wf0" x="0" y="0" width="100%" height="100%" color-interpolation-filters="sRGB"><feTurbulence type="fractalNoise" baseFrequency="0.2" numOctaves="2" seed="3" result="n"/><feColorMatrix in="n" type="matrix" values="0 0 0 0 1.000  0 0 0 0 1.000  0 0 0 0 1.000  0 0 0 2.4 -0.8"/></filter>
<radialGradient id="wb0" cx="50%" cy="50%" r="72%"><stop offset="0.7" stop-color="#efe9f3"/><stop offset="1" stop-color="#c6b8d8"/></radialGradient>
<radialGradient id="wg0" cx="50%" cy="50%" r="50%"><stop offset="0" stop-color="#1d1668"/><stop offset="0.8" stop-color="#1d1668"/><stop offset="1" stop-color="#2a1f7a"/></radialGradient></defs>
<g clip-path="url(#wt0)">
<rect x="516" y="44.7" width="37.4" height="37.2" fill="url(#wb0)" stroke="none" stroke-width="0.8" />
<circle cx="534.8" cy="63.3" r="18.2" fill="#fdfcfe" stroke="#dcd3e8" stroke-width="0.5" />
<circle cx="534.8" cy="63.3" r="17" fill="url(#wg0)" stroke="none" stroke-width="0.7" />
</g>
<defs><clipPath id="wc1"><circle cx="573.1" cy="63.3" r="16.8"/></clipPath>
<clipPath id="wt1"><rect x="555.3" y="44.7" width="36.1" height="37.2"/></clipPath>
<filter id="wf1" x="0" y="0" width="100%" height="100%" color-interpolation-filters="sRGB"><feTurbulence type="fractalNoise" baseFrequency="0.2" numOctaves="2" seed="5" result="n"/><feColorMatrix in="n" type="matrix" values="0 0 0 0 0.714  0 0 0 0 0.635  0 0 0 0 0.855  0 0 0 2.4 -0.8"/></filter>
<radialGradient id="wb1" cx="50%" cy="50%" r="72%"><stop offset="0.7" stop-color="#efe9f3"/><stop offset="1" stop-color="#c6b8d8"/></radialGradient>
<radialGradient id="wg1" cx="50%" cy="50%" r="50%"><stop offset="0" stop-color="#7a58bc"/><stop offset="0.8" stop-color="#7a58bc"/><stop offset="1" stop-color="#9a84cc"/></radialGradient></defs>
<g clip-path="url(#wt1)">
<rect x="555.3" y="44.7" width="36.1" height="37.2" fill="url(#wb1)" stroke="none" stroke-width="0.8" />
<circle cx="573.1" cy="63.3" r="18" fill="#fdfcfe" stroke="#dcd3e8" stroke-width="0.5" />
<circle cx="573.1" cy="63.3" r="16.8" fill="url(#wg1)" stroke="none" stroke-width="0.7" />
<rect x="556.3" y="46.5" width="33.6" height="33.6" fill="#b6a2da" opacity="0.55" filter="url(#wf1)" clip-path="url(#wc1)"/>
</g>
<defs><clipPath id="wc2"><circle cx="611.3" cy="63.3" r="16.8"/></clipPath>
<clipPath id="wt2"><rect x="593.1" y="44.7" width="36.5" height="37.2"/></clipPath>
<filter id="wf2" x="0" y="0" width="100%" height="100%" color-interpolation-filters="sRGB"><feTurbulence type="fractalNoise" baseFrequency="0.2" numOctaves="2" seed="8" result="n"/><feColorMatrix in="n" type="matrix" values="0 0 0 0 0.839  0 0 0 0 0.784  0 0 0 0 0.894  0 0 0 2.4 -0.8"/></filter>
<radialGradient id="wb2" cx="50%" cy="50%" r="72%"><stop offset="0.7" stop-color="#efe9f3"/><stop offset="1" stop-color="#c6b8d8"/></radialGradient>
<radialGradient id="wg2" cx="50%" cy="50%" r="50%"><stop offset="0" stop-color="#b9a4d0"/><stop offset="0.8" stop-color="#b9a4d0"/><stop offset="1" stop-color="#a88cc8"/></radialGradient></defs>
<g clip-path="url(#wt2)">
<rect x="593.1" y="44.7" width="36.5" height="37.2" fill="url(#wb2)" stroke="none" stroke-width="0.8" />
<circle cx="611.3" cy="63.3" r="18" fill="#fdfcfe" stroke="#dcd3e8" stroke-width="0.5" />
<circle cx="611.3" cy="63.3" r="16.8" fill="url(#wg2)" stroke="none" stroke-width="0.7" />
<rect x="594.5" y="46.5" width="33.6" height="33.6" fill="#d6c8e4" opacity="0.5" filter="url(#wf2)" clip-path="url(#wc2)"/>
</g>
<defs><clipPath id="wc3"><circle cx="649.4" cy="63.3" r="17"/></clipPath>
<clipPath id="wt3"><rect x="630.7" y="44.7" width="37.7" height="37.2"/></clipPath>
<filter id="wf3" x="0" y="0" width="100%" height="100%" color-interpolation-filters="sRGB"><feTurbulence type="fractalNoise" baseFrequency="0.2" numOctaves="2" seed="11" result="n"/><feColorMatrix in="n" type="matrix" values="0 0 0 0 0.651  0 0 0 0 0.541  0 0 0 0 0.878  0 0 0 2.4 -0.8"/></filter>
<radialGradient id="wb3" cx="50%" cy="50%" r="72%"><stop offset="0.7" stop-color="#efe9f3"/><stop offset="1" stop-color="#c6b8d8"/></radialGradient>
<radialGradient id="wg3" cx="50%" cy="50%" r="50%"><stop offset="0" stop-color="#7a52cc"/><stop offset="0.8" stop-color="#7a52cc"/><stop offset="1" stop-color="#987cd6"/></radialGradient></defs>
<g clip-path="url(#wt3)">
<rect x="630.7" y="44.7" width="37.7" height="37.2" fill="url(#wb3)" stroke="none" stroke-width="0.8" />
<circle cx="649.4" cy="63.3" r="18.2" fill="#fdfcfe" stroke="#dcd3e8" stroke-width="0.5" />
<circle cx="649.4" cy="63.3" r="17" fill="url(#wg3)" stroke="none" stroke-width="0.7" />
<rect x="632.4" y="46.3" width="34" height="34" fill="#a68ae0" opacity="0.55" filter="url(#wf3)" clip-path="url(#wc3)"/>
</g>
<polyline points="517.6,83.2 517.6,87.0 627.7,87.0 627.7,83.2" fill="none" stroke="#000" stroke-width="0.8"/>
<polyline points="631.5,83.2 631.5,87.0 668,87.0 668,83.2" fill="none" stroke="#000" stroke-width="0.8"/>
<text x="574.3" y="97.6" font-size="8.6" text-anchor="middle" fill="#000" >SCR</text>
<text x="649.3" y="97.6" font-size="8.6" text-anchor="middle">si<tspan font-style="italic">CASP4</tspan></text>
<line x1="588.2" y1="135.3" x2="588.2" y2="197.5" stroke="#000" stroke-width="1" />
<line x1="585.2" y1="197" x2="588.2" y2="197" stroke="#000" stroke-width="1" />
<line x1="585.2" y1="181.7" x2="588.2" y2="181.7" stroke="#000" stroke-width="1" />
<line x1="585.2" y1="166.4" x2="588.2" y2="166.4" stroke="#000" stroke-width="1" />
<line x1="585.2" y1="151.1" x2="588.2" y2="151.1" stroke="#000" stroke-width="1" />
<line x1="585.2" y1="135.8" x2="588.2" y2="135.8" stroke="#000" stroke-width="1" />
<text x="583.3" y="200" font-size="8.5" text-anchor="end" fill="#000" >0</text>
<text x="583.3" y="184.7" font-size="8.5" text-anchor="end">2&#215;10<tspan font-size="7" dy="-3.4" dx="0.4">4</tspan></text>
<text x="583.3" y="169.4" font-size="8.5" text-anchor="end">4&#215;10<tspan font-size="7" dy="-3.4" dx="0.4">4</tspan></text>
<text x="583.3" y="154.1" font-size="8.5" text-anchor="end">6&#215;10<tspan font-size="7" dy="-3.4" dx="0.4">4</tspan></text>
<text x="583.3" y="138.8" font-size="8.5" text-anchor="end">8&#215;10<tspan font-size="7" dy="-3.4" dx="0.4">4</tspan></text>
<line x1="588.2" y1="197" x2="650" y2="197" stroke="#000" stroke-width="1" />
<line x1="606.5" y1="197" x2="606.5" y2="200.4" stroke="#000" stroke-width="1" />
<line x1="632.5" y1="197" x2="632.5" y2="200.4" stroke="#000" stroke-width="1" />
<text x="547" y="168.3" font-size="9.1" text-anchor="middle" fill="#000" transform="rotate(-90 547 168.3)" >OD (arbituary units)</text>
<text x="609.8" y="210" font-size="9.4" text-anchor="end" fill="#000" transform="rotate(-45 609.8 210)" >SCR</text>
<text x="635.8" y="210.0" font-size="9.4" text-anchor="end" transform="rotate(-45 635.8 210.0)">si<tspan font-style="italic">CASP4</tspan></text>
<line x1="606.5" y1="177" x2="606.5" y2="188.3" stroke="#000" stroke-width="0.9" />
<line x1="602.1" y1="177" x2="610.9" y2="177" stroke="#000" stroke-width="0.9" />
<line x1="602.1" y1="188.3" x2="610.9" y2="188.3" stroke="#000" stroke-width="0.9" />
<line x1="597.6" y1="182.5" x2="615.1" y2="182.5" stroke="#000" stroke-width="0.9" />
<line x1="632.5" y1="153.6" x2="632.5" y2="165.2" stroke="#000" stroke-width="0.9" />
<line x1="628.1" y1="153.6" x2="636.9" y2="153.6" stroke="#000" stroke-width="0.9" />
<line x1="628.1" y1="165.2" x2="636.9" y2="165.2" stroke="#000" stroke-width="0.9" />
<line x1="624" y1="159.4" x2="641" y2="159.4" stroke="#000" stroke-width="0.9" />
<circle cx="606.5" cy="172.4" r="2.5" fill="#f5821f" stroke="#000" stroke-width="0.7" />
<circle cx="606.5" cy="184.2" r="2.5" fill="#4c93f2" stroke="#000" stroke-width="0.7" />
<circle cx="606.5" cy="191.7" r="2.5" fill="#3f8a22" stroke="#000" stroke-width="0.7" />
<circle cx="632.5" cy="147.8" r="2.5" fill="#3f8a22" stroke="#000" stroke-width="0.7" />
<circle cx="626.5" cy="166.8" r="2.5" fill="#4c93f2" stroke="#000" stroke-width="0.7" />
<circle cx="638.5" cy="163" r="2.5" fill="#f5821f" stroke="#000" stroke-width="0.7" />
<line x1="606.7" y1="141.5" x2="633.2" y2="141.5" stroke="#222" stroke-width="0.9" />
<text x="620" y="145.08" font-size="13.5" text-anchor="middle" fill="#000" stroke="#000" stroke-width="0.25">*</text>
</g>
<g id="panel_e">
<text x="1" y="272.5" font-size="14.5" text-anchor="start" fill="#000" >E.</text>
<text x="54" y="290.6" font-size="9.1" text-anchor="start" fill="#000" font-style="italic" >Response to ER stress</text>
<g shape-rendering="crispEdges">
<rect x="53.9" y="295" width="16.1" height="9.58" fill="#2e5aa8"/>
<rect x="69.95" y="295" width="16.1" height="9.58" fill="#3060b0"/>
<rect x="86" y="295" width="16.1" height="9.58" fill="#12264a"/>
<rect x="102.05" y="295" width="16.1" height="9.58" fill="#220004"/>
<rect x="118.1" y="295" width="16.1" height="9.58" fill="#040000"/>
<rect x="134.15" y="295" width="16.1" height="9.58" fill="#f81c0c"/>
<rect x="53.9" y="304.52" width="16.1" height="9.58" fill="#24488a"/>
<rect x="69.95" y="304.52" width="16.1" height="9.58" fill="#3460b8"/>
<rect x="86" y="304.52" width="16.1" height="9.58" fill="#10244a"/>
<rect x="102.05" y="304.52" width="16.1" height="9.58" fill="#420006"/>
<rect x="118.1" y="304.52" width="16.1" height="9.58" fill="#061630"/>
<rect x="134.15" y="304.52" width="16.1" height="9.58" fill="#f81c0c"/>
<rect x="53.9" y="314.05" width="16.1" height="9.58" fill="#0c1c3a"/>
<rect x="69.95" y="314.05" width="16.1" height="9.58" fill="#4480f0"/>
<rect x="86" y="314.05" width="16.1" height="9.58" fill="#1e3c78"/>
<rect x="102.05" y="314.05" width="16.1" height="9.58" fill="#6c0a0a"/>
<rect x="118.1" y="314.05" width="16.1" height="9.58" fill="#04101e"/>
<rect x="134.15" y="314.05" width="16.1" height="9.58" fill="#d82014"/>
<rect x="53.9" y="323.57" width="16.1" height="9.58" fill="#2e58a8"/>
<rect x="69.95" y="323.57" width="16.1" height="9.58" fill="#2c54a0"/>
<rect x="86" y="323.57" width="16.1" height="9.58" fill="#3058aa"/>
<rect x="102.05" y="323.57" width="16.1" height="9.58" fill="#680808"/>
<rect x="118.1" y="323.57" width="16.1" height="9.58" fill="#580608"/>
<rect x="134.15" y="323.57" width="16.1" height="9.58" fill="#cc1e12"/>
<rect x="53.9" y="333.1" width="16.1" height="9.58" fill="#0e2044"/>
<rect x="69.95" y="333.1" width="16.1" height="9.58" fill="#3a6ccc"/>
<rect x="86" y="333.1" width="16.1" height="9.58" fill="#4078e4"/>
<rect x="102.05" y="333.1" width="16.1" height="9.58" fill="#8c100a"/>
<rect x="118.1" y="333.1" width="16.1" height="9.58" fill="#500406"/>
<rect x="134.15" y="333.1" width="16.1" height="9.58" fill="#961610"/>
<rect x="53.9" y="342.62" width="16.1" height="9.58" fill="#1e3c78"/>
<rect x="69.95" y="342.62" width="16.1" height="9.58" fill="#264a90"/>
<rect x="86" y="342.62" width="16.1" height="9.58" fill="#244688"/>
<rect x="102.05" y="342.62" width="16.1" height="9.58" fill="#94140c"/>
<rect x="118.1" y="342.62" width="16.1" height="9.58" fill="#1c3868"/>
<rect x="134.15" y="342.62" width="16.1" height="9.58" fill="#d42014"/>
<rect x="53.9" y="352.15" width="16.1" height="9.58" fill="#3a6cd0"/>
<rect x="69.95" y="352.15" width="16.1" height="9.58" fill="#3260b8"/>
<rect x="86" y="352.15" width="16.1" height="9.58" fill="#162c58"/>
<rect x="102.05" y="352.15" width="16.1" height="9.58" fill="#1c0004"/>
<rect x="118.1" y="352.15" width="16.1" height="9.58" fill="#800e0a"/>
<rect x="134.15" y="352.15" width="16.1" height="9.58" fill="#cc1e12"/>
<rect x="53.9" y="361.68" width="16.1" height="9.58" fill="#284c98"/>
<rect x="69.95" y="361.68" width="16.1" height="9.58" fill="#3a6ccc"/>
<rect x="86" y="361.68" width="16.1" height="9.58" fill="#22427e"/>
<rect x="102.05" y="361.68" width="16.1" height="9.58" fill="#64080a"/>
<rect x="118.1" y="361.68" width="16.1" height="9.58" fill="#240006"/>
<rect x="134.15" y="361.68" width="16.1" height="9.58" fill="#d02014"/>
<rect x="53.9" y="371.2" width="16.1" height="9.58" fill="#040a0e"/>
<rect x="69.95" y="371.2" width="16.1" height="9.58" fill="#080000"/>
<rect x="86" y="371.2" width="16.1" height="9.58" fill="#4888fc"/>
<rect x="102.05" y="371.2" width="16.1" height="9.58" fill="#284c8c"/>
<rect x="118.1" y="371.2" width="16.1" height="9.58" fill="#680a0a"/>
<rect x="134.15" y="371.2" width="16.1" height="9.58" fill="#cc1e12"/>
<rect x="53.9" y="380.73" width="16.1" height="9.58" fill="#2c54a4"/>
<rect x="69.95" y="380.73" width="16.1" height="9.58" fill="#3868c8"/>
<rect x="86" y="380.73" width="16.1" height="9.58" fill="#0a1a34"/>
<rect x="102.05" y="380.73" width="16.1" height="9.58" fill="#180002"/>
<rect x="118.1" y="380.73" width="16.1" height="9.58" fill="#200004"/>
<rect x="134.15" y="380.73" width="16.1" height="9.58" fill="#f41e0e"/>
<rect x="53.9" y="390.25" width="16.1" height="9.58" fill="#2e58a8"/>
<rect x="69.95" y="390.25" width="16.1" height="9.58" fill="#3c74dc"/>
<rect x="86" y="390.25" width="16.1" height="9.58" fill="#1c3870"/>
<rect x="102.05" y="390.25" width="16.1" height="9.58" fill="#6c0a0a"/>
<rect x="118.1" y="390.25" width="16.1" height="9.58" fill="#480406"/>
<rect x="134.15" y="390.25" width="16.1" height="9.58" fill="#b81c12"/>
<rect x="53.9" y="399.77" width="16.1" height="9.58" fill="#264a90"/>
<rect x="69.95" y="399.77" width="16.1" height="9.58" fill="#3464bc"/>
<rect x="86" y="399.77" width="16.1" height="9.58" fill="#162c5a"/>
<rect x="102.05" y="399.77" width="16.1" height="9.58" fill="#300004"/>
<rect x="118.1" y="399.77" width="16.1" height="9.58" fill="#020202"/>
<rect x="134.15" y="399.77" width="16.1" height="9.58" fill="#fc200e"/>
<rect x="53.9" y="409.3" width="16.1" height="9.58" fill="#3a6cd0"/>
<rect x="69.95" y="409.3" width="16.1" height="9.58" fill="#3058ac"/>
<rect x="86" y="409.3" width="16.1" height="9.58" fill="#21427e"/>
<rect x="102.05" y="409.3" width="16.1" height="9.58" fill="#580608"/>
<rect x="118.1" y="409.3" width="16.1" height="9.58" fill="#70080a"/>
<rect x="134.15" y="409.3" width="16.1" height="9.58" fill="#c01c12"/>
<rect x="53.9" y="418.82" width="16.1" height="9.58" fill="#2c0006"/>
<rect x="69.95" y="418.82" width="16.1" height="9.58" fill="#1a3466"/>
<rect x="86" y="418.82" width="16.1" height="9.58" fill="#7c0e0a"/>
<rect x="102.05" y="418.82" width="16.1" height="9.58" fill="#3c70d8"/>
<rect x="118.1" y="418.82" width="16.1" height="9.58" fill="#2c54a4"/>
<rect x="134.15" y="418.82" width="16.1" height="9.58" fill="#c01c12"/>
<rect x="53.9" y="428.35" width="16.1" height="9.58" fill="#284c98"/>
<rect x="69.95" y="428.35" width="16.1" height="9.58" fill="#780c0a"/>
<rect x="86" y="428.35" width="16.1" height="9.58" fill="#d82012"/>
<rect x="102.05" y="428.35" width="16.1" height="9.58" fill="#04101e"/>
<rect x="118.1" y="428.35" width="16.1" height="9.58" fill="#3868c8"/>
<rect x="134.15" y="428.35" width="16.1" height="9.58" fill="#142a52"/>
<rect x="53.9" y="437.88" width="16.1" height="9.58" fill="#0a0202"/>
<rect x="69.95" y="437.88" width="16.1" height="9.58" fill="#080000"/>
<rect x="86" y="437.88" width="16.1" height="9.58" fill="#58060a"/>
<rect x="102.05" y="437.88" width="16.1" height="9.58" fill="#2c54a0"/>
<rect x="118.1" y="437.88" width="16.1" height="9.58" fill="#4484f8"/>
<rect x="134.15" y="437.88" width="16.1" height="9.58" fill="#cc1e12"/>
<rect x="53.9" y="447.4" width="16.1" height="9.58" fill="#21427e"/>
<rect x="69.95" y="447.4" width="16.1" height="9.58" fill="#6c0a0a"/>
<rect x="86" y="447.4" width="16.1" height="9.58" fill="#a81810"/>
<rect x="102.05" y="447.4" width="16.1" height="9.58" fill="#4888fc"/>
<rect x="118.1" y="447.4" width="16.1" height="9.58" fill="#1a3260"/>
<rect x="134.15" y="447.4" width="16.1" height="9.58" fill="#580608"/>
<rect x="53.9" y="456.93" width="16.1" height="9.58" fill="#040a14"/>
<rect x="69.95" y="456.93" width="16.1" height="9.58" fill="#183060"/>
<rect x="86" y="456.93" width="16.1" height="9.58" fill="#c81e12"/>
<rect x="102.05" y="456.93" width="16.1" height="9.58" fill="#264a88"/>
<rect x="118.1" y="456.93" width="16.1" height="9.58" fill="#3a6cd0"/>
<rect x="134.15" y="456.93" width="16.1" height="9.58" fill="#800e0a"/>
<rect x="53.9" y="466.45" width="16.1" height="9.58" fill="#3464c0"/>
<rect x="69.95" y="466.45" width="16.1" height="9.58" fill="#040a12"/>
<rect x="86" y="466.45" width="16.1" height="9.58" fill="#c81e12"/>
<rect x="102.05" y="466.45" width="16.1" height="9.58" fill="#3c74dc"/>
<rect x="118.1" y="466.45" width="16.1" height="9.58" fill="#020000"/>
<rect x="134.15" y="466.45" width="16.1" height="9.58" fill="#7c0c0a"/>
<rect x="53.9" y="475.98" width="16.1" height="9.58" fill="#280006"/>
<rect x="69.95" y="475.98" width="16.1" height="9.58" fill="#1e3c74"/>
<rect x="86" y="475.98" width="16.1" height="9.58" fill="#3c70d8"/>
<rect x="102.05" y="475.98" width="16.1" height="9.58" fill="#dc2010"/>
<rect x="118.1" y="475.98" width="16.1" height="9.58" fill="#22427e"/>
<rect x="134.15" y="475.98" width="16.1" height="9.58" fill="#500608"/>
<rect x="53.9" y="485.5" width="16.1" height="9.58" fill="#480006"/>
<rect x="69.95" y="485.5" width="16.1" height="9.58" fill="#4484fc"/>
<rect x="86" y="485.5" width="16.1" height="9.58" fill="#2c0006"/>
<rect x="102.05" y="485.5" width="16.1" height="9.58" fill="#c01c10"/>
<rect x="118.1" y="485.5" width="16.1" height="9.58" fill="#3868c8"/>
<rect x="134.15" y="485.5" width="16.1" height="9.58" fill="#1c0004"/>
<rect x="53.9" y="495.02" width="16.1" height="9.58" fill="#264a90"/>
<rect x="69.95" y="495.02" width="16.1" height="9.58" fill="#2c54a0"/>
<rect x="86" y="495.02" width="16.1" height="9.58" fill="#020408"/>
<rect x="102.05" y="495.02" width="16.1" height="9.58" fill="#c81e12"/>
<rect x="118.1" y="495.02" width="16.1" height="9.58" fill="#2c54a0"/>
<rect x="134.15" y="495.02" width="16.1" height="9.58" fill="#88100a"/>
<rect x="53.9" y="504.55" width="16.1" height="9.58" fill="#2c54a0"/>
<rect x="69.95" y="504.55" width="16.1" height="9.58" fill="#2a509c"/>
<rect x="86" y="504.55" width="16.1" height="9.58" fill="#040000"/>
<rect x="102.05" y="504.55" width="16.1" height="9.58" fill="#12264a"/>
<rect x="118.1" y="504.55" width="16.1" height="9.58" fill="#0c0202"/>
<rect x="134.15" y="504.55" width="16.1" height="9.58" fill="#ff200e"/>
<rect x="53.9" y="514.08" width="16.1" height="9.58" fill="#3464c0"/>
<rect x="69.95" y="514.08" width="16.1" height="9.58" fill="#2c58a8"/>
<rect x="86" y="514.08" width="16.1" height="9.58" fill="#1c0004"/>
<rect x="102.05" y="514.08" width="16.1" height="9.58" fill="#08162e"/>
<rect x="118.1" y="514.08" width="16.1" height="9.58" fill="#100204"/>
<rect x="134.15" y="514.08" width="16.1" height="9.58" fill="#fc200e"/>
<rect x="53.9" y="523.6" width="16.1" height="9.58" fill="#3260b8"/>
<rect x="69.95" y="523.6" width="16.1" height="9.58" fill="#1a3466"/>
<rect x="86" y="523.6" width="16.1" height="9.58" fill="#0c0202"/>
<rect x="102.05" y="523.6" width="16.1" height="9.58" fill="#12264a"/>
<rect x="118.1" y="523.6" width="16.1" height="9.58" fill="#020408"/>
<rect x="134.15" y="523.6" width="16.1" height="9.58" fill="#ff200e"/>
<rect x="53.9" y="533.12" width="16.1" height="9.58" fill="#22427e"/>
<rect x="69.95" y="533.12" width="16.1" height="9.58" fill="#264a90"/>
<rect x="86" y="533.12" width="16.1" height="9.58" fill="#200006"/>
<rect x="102.05" y="533.12" width="16.1" height="9.58" fill="#040608"/>
<rect x="118.1" y="533.12" width="16.1" height="9.58" fill="#264a8c"/>
<rect x="134.15" y="533.12" width="16.1" height="9.58" fill="#ff200e"/>
<rect x="53.9" y="542.65" width="16.1" height="9.58" fill="#2e58a8"/>
<rect x="69.95" y="542.65" width="16.1" height="9.58" fill="#2c54a4"/>
<rect x="86" y="542.65" width="16.1" height="9.58" fill="#040002"/>
<rect x="102.05" y="542.65" width="16.1" height="9.58" fill="#0a1a36"/>
<rect x="118.1" y="542.65" width="16.1" height="9.58" fill="#1c0004"/>
<rect x="134.15" y="542.65" width="16.1" height="9.58" fill="#ff200e"/>
<rect x="53.9" y="552.17" width="16.1" height="9.58" fill="#3464c0"/>
<rect x="69.95" y="552.17" width="16.1" height="9.58" fill="#244688"/>
<rect x="86" y="552.17" width="16.1" height="9.58" fill="#480408"/>
<rect x="102.05" y="552.17" width="16.1" height="9.58" fill="#1e3c74"/>
<rect x="118.1" y="552.17" width="16.1" height="9.58" fill="#180004"/>
<rect x="134.15" y="552.17" width="16.1" height="9.58" fill="#e81e10"/>
<rect x="53.9" y="561.7" width="16.1" height="9.58" fill="#3a6cd0"/>
<rect x="69.95" y="561.7" width="16.1" height="9.58" fill="#244688"/>
<rect x="86" y="561.7" width="16.1" height="9.58" fill="#380006"/>
<rect x="102.05" y="561.7" width="16.1" height="9.58" fill="#061424"/>
<rect x="118.1" y="561.7" width="16.1" height="9.58" fill="#040408"/>
<rect x="134.15" y="561.7" width="16.1" height="9.58" fill="#f81e0e"/>
<rect x="53.9" y="571.23" width="16.1" height="9.58" fill="#0e2244"/>
<rect x="69.95" y="571.23" width="16.1" height="9.58" fill="#3a6ccc"/>
<rect x="86" y="571.23" width="16.1" height="9.58" fill="#400408"/>
<rect x="102.05" y="571.23" width="16.1" height="9.58" fill="#04080e"/>
<rect x="118.1" y="571.23" width="16.1" height="9.58" fill="#21427e"/>
<rect x="134.15" y="571.23" width="16.1" height="9.58" fill="#f81e0e"/>
<rect x="53.9" y="580.75" width="16.1" height="9.58" fill="#3260b8"/>
<rect x="69.95" y="580.75" width="16.1" height="9.58" fill="#2a509c"/>
<rect x="86" y="580.75" width="16.1" height="9.58" fill="#140004"/>
<rect x="102.05" y="580.75" width="16.1" height="9.58" fill="#10223e"/>
<rect x="118.1" y="580.75" width="16.1" height="9.58" fill="#100204"/>
<rect x="134.15" y="580.75" width="16.1" height="9.58" fill="#fc200e"/>
<rect x="53.9" y="590.28" width="16.1" height="9.58" fill="#2c54a4"/>
<rect x="69.95" y="590.28" width="16.1" height="9.58" fill="#3464c0"/>
<rect x="86" y="590.28" width="16.1" height="9.58" fill="#140004"/>
<rect x="102.05" y="590.28" width="16.1" height="9.58" fill="#060000"/>
<rect x="118.1" y="590.28" width="16.1" height="9.58" fill="#040a12"/>
<rect x="134.15" y="590.28" width="16.1" height="9.58" fill="#f81e0e"/>
<rect x="53.9" y="599.8" width="16.1" height="9.58" fill="#0c1c38"/>
<rect x="69.95" y="599.8" width="16.1" height="9.58" fill="#2c54a0"/>
<rect x="86" y="599.8" width="16.1" height="9.58" fill="#500608"/>
<rect x="102.05" y="599.8" width="16.1" height="9.58" fill="#0c0002"/>
<rect x="118.1" y="599.8" width="16.1" height="9.58" fill="#3c74dc"/>
<rect x="134.15" y="599.8" width="16.1" height="9.58" fill="#e41e10"/>
<rect x="53.9" y="609.33" width="16.1" height="9.58" fill="#140004"/>
<rect x="69.95" y="609.33" width="16.1" height="9.58" fill="#3260b8"/>
<rect x="86" y="609.33" width="16.1" height="9.58" fill="#020406"/>
<rect x="102.05" y="609.33" width="16.1" height="9.58" fill="#280006"/>
<rect x="118.1" y="609.33" width="16.1" height="9.58" fill="#3a6cd0"/>
<rect x="134.15" y="609.33" width="16.1" height="9.58" fill="#e81e10"/>
<rect x="53.9" y="618.85" width="16.1" height="9.58" fill="#162c58"/>
<rect x="69.95" y="618.85" width="16.1" height="9.58" fill="#2a509c"/>
<rect x="86" y="618.85" width="16.1" height="9.58" fill="#0a1a36"/>
<rect x="102.05" y="618.85" width="16.1" height="9.58" fill="#140004"/>
<rect x="118.1" y="618.85" width="16.1" height="9.58" fill="#1c3870"/>
<rect x="134.15" y="618.85" width="16.1" height="9.58" fill="#ff200e"/>
<rect x="53.9" y="628.38" width="16.1" height="9.58" fill="#264a8c"/>
<rect x="69.95" y="628.38" width="16.1" height="9.58" fill="#244688"/>
<rect x="86" y="628.38" width="16.1" height="9.58" fill="#7c0c0a"/>
<rect x="102.05" y="628.38" width="16.1" height="9.58" fill="#284c90"/>
<rect x="118.1" y="628.38" width="16.1" height="9.58" fill="#142850"/>
<rect x="134.15" y="628.38" width="16.1" height="9.58" fill="#e01e10"/>
<rect x="53.9" y="637.9" width="16.1" height="9.58" fill="#3260b8"/>
<rect x="69.95" y="637.9" width="16.1" height="9.58" fill="#3260b8"/>
<rect x="86" y="637.9" width="16.1" height="9.58" fill="#1c0004"/>
<rect x="102.05" y="637.9" width="16.1" height="9.58" fill="#040a0e"/>
<rect x="118.1" y="637.9" width="16.1" height="9.58" fill="#040a10"/>
<rect x="134.15" y="637.9" width="16.1" height="9.58" fill="#ff200e"/>
<rect x="53.9" y="647.42" width="16.1" height="9.58" fill="#3464c0"/>
<rect x="69.95" y="647.42" width="16.1" height="9.58" fill="#142a54"/>
<rect x="86" y="647.42" width="16.1" height="9.58" fill="#200004"/>
<rect x="102.05" y="647.42" width="16.1" height="9.58" fill="#122448"/>
<rect x="118.1" y="647.42" width="16.1" height="9.58" fill="#0c1c38"/>
<rect x="134.15" y="647.42" width="16.1" height="9.58" fill="#fc200e"/>
<rect x="53.9" y="656.95" width="16.1" height="9.58" fill="#3260b8"/>
<rect x="69.95" y="656.95" width="16.1" height="9.58" fill="#10223e"/>
<rect x="86" y="656.95" width="16.1" height="9.58" fill="#740c0a"/>
<rect x="102.05" y="656.95" width="16.1" height="9.58" fill="#2a509c"/>
<rect x="118.1" y="656.95" width="16.1" height="9.58" fill="#10223e"/>
<rect x="134.15" y="656.95" width="16.1" height="9.58" fill="#e81e10"/>
<rect x="53.9" y="666.48" width="16.1" height="9.58" fill="#2e5cb0"/>
<rect x="69.95" y="666.48" width="16.1" height="9.58" fill="#142a54"/>
<rect x="86" y="666.48" width="16.1" height="9.58" fill="#240006"/>
<rect x="102.05" y="666.48" width="16.1" height="9.58" fill="#3260b8"/>
<rect x="118.1" y="666.48" width="16.1" height="9.58" fill="#380006"/>
<rect x="134.15" y="666.48" width="16.1" height="9.58" fill="#e81e10"/>
</g>
<text x="0" y="0" font-size="8.3" text-anchor="end" fill="#000" transform="translate(49 301) scale(0.95 1)" >HYOU1</text>
<text x="0" y="0" font-size="8.3" text-anchor="end" fill="#000" transform="translate(49 310.63) scale(0.95 1)" >SEL1L</text>
<text x="0" y="0" font-size="8.3" text-anchor="end" fill="#000" transform="translate(49 320.26) scale(0.95 1)" >UFL1</text>
<text x="0" y="0" font-size="8.3" text-anchor="end" fill="#000" transform="translate(49 329.88) scale(0.95 1)" >COL4A3BP</text>
<text x="0" y="0" font-size="8.3" text-anchor="end" fill="#000" transform="translate(49 339.51) scale(0.95 1)" >EIF2B5</text>
<text x="0" y="0" font-size="8.3" text-anchor="end" fill="#000" transform="translate(49 349.14) scale(0.95 1)" >TXNDC5</text>
<text x="0" y="0" font-size="8.3" text-anchor="end" fill="#000" transform="translate(49 358.77) scale(0.95 1)" >PTPN1</text>
<text x="0" y="0" font-size="8.3" text-anchor="end" fill="#000" transform="translate(49 368.4) scale(0.95 1)" >DNAJC10</text>
<text x="0" y="0" font-size="8.3" text-anchor="end" fill="#000" transform="translate(49 378.02) scale(0.95 1)" >PIK3R1</text>
<text x="0" y="0" font-size="8.3" text-anchor="end" fill="#000" transform="translate(49 387.65) scale(0.95 1)" >PDIA5</text>
<text x="0" y="0" font-size="8.3" text-anchor="end" fill="#000" transform="translate(49 397.28) scale(0.95 1)" >WFS1</text>
<text x="0" y="0" font-size="8.3" text-anchor="end" fill="#000" transform="translate(49 406.91) scale(0.95 1)" >TMEM33</text>
<text x="0" y="0" font-size="8.3" text-anchor="end" fill="#000" transform="translate(49 416.54) scale(0.95 1)" >DNAJB9</text>
<text x="0" y="0" font-size="8.3" text-anchor="end" fill="#000" transform="translate(49 426.16) scale(0.95 1)" >ATP2A2</text>
<text x="0" y="0" font-size="8.3" text-anchor="end" fill="#000" transform="translate(49 435.79) scale(0.95 1)" >THBS1</text>
<text x="0" y="0" font-size="8.3" text-anchor="end" fill="#000" transform="translate(49 445.42) scale(0.95 1)" >EIF2AK3</text>
<text x="0" y="0" font-size="8.3" text-anchor="end" fill="#000" transform="translate(49 455.05) scale(0.95 1)" >TRAF2</text>
<text x="0" y="0" font-size="8.3" text-anchor="end" fill="#000" transform="translate(49 464.68) scale(0.95 1)" >SRPX</text>
<text x="0" y="0" font-size="8.3" text-anchor="end" fill="#000" transform="translate(49 474.3) scale(0.95 1)" >CEBPB</text>
<text x="0" y="0" font-size="8.3" text-anchor="end" fill="#000" transform="translate(49 483.93) scale(0.95 1)" >DDRGK1</text>
<text x="0" y="0" font-size="8.3" text-anchor="end" fill="#000" transform="translate(49 493.56) scale(0.95 1)" >TMBIM6</text>
<text x="0" y="0" font-size="8.3" text-anchor="end" fill="#000" transform="translate(49 503.19) scale(0.95 1)" >PLA2G6</text>
<text x="0" y="0" font-size="8.3" text-anchor="end" fill="#000" transform="translate(49 512.82) scale(0.95 1)" >HSP90B1</text>
<text x="0" y="0" font-size="8.3" text-anchor="end" fill="#000" transform="translate(49 522.44) scale(0.95 1)" >P4HB</text>
<text x="0" y="0" font-size="8.3" text-anchor="end" fill="#000" transform="translate(49 532.07) scale(0.95 1)" >HSPA5</text>
<text x="0" y="0" font-size="8.3" text-anchor="end" fill="#000" transform="translate(49 541.7) scale(0.95 1)" >ATP2A2</text>
<text x="0" y="0" font-size="8.3" text-anchor="end" fill="#000" transform="translate(49 551.33) scale(0.95 1)" >PDIA3</text>
<text x="0" y="0" font-size="8.3" text-anchor="end" fill="#000" transform="translate(49 560.96) scale(0.95 1)" >PDIA4</text>
<text x="0" y="0" font-size="8.3" text-anchor="end" fill="#000" transform="translate(49 570.58) scale(0.95 1)" >PDIA6</text>
<text x="0" y="0" font-size="8.3" text-anchor="end" fill="#000" transform="translate(49 580.21) scale(0.95 1)" >ERO1A</text>
<text x="0" y="0" font-size="8.3" text-anchor="end" fill="#000" transform="translate(49 589.84) scale(0.95 1)" >ERP44</text>
<text x="0" y="0" font-size="8.3" text-anchor="end" fill="#000" transform="translate(49 599.47) scale(0.95 1)" >TMX3</text>
<text x="0" y="0" font-size="8.3" text-anchor="end" fill="#000" transform="translate(49 609.1) scale(0.95 1)" >TMTC3</text>
<text x="0" y="0" font-size="8.3" text-anchor="end" fill="#000" transform="translate(49 618.72) scale(0.95 1)" >TMX4</text>
<text x="0" y="0" font-size="8.3" text-anchor="end" fill="#000" transform="translate(49 628.35) scale(0.95 1)" >TMEM259</text>
<text x="0" y="0" font-size="8.3" text-anchor="end" fill="#000" transform="translate(49 637.98) scale(0.95 1)" >TMX1</text>
<text x="0" y="0" font-size="8.3" text-anchor="end" fill="#000" transform="translate(49 647.61) scale(0.95 1)" >SDF2L1</text>
<text x="0" y="0" font-size="8.3" text-anchor="end" fill="#000" transform="translate(49 657.24) scale(0.95 1)" >TXNDC11</text>
<text x="0" y="0" font-size="8.3" text-anchor="end" fill="#000" transform="translate(49 666.86) scale(0.95 1)" >PPP1R15A</text>
<text x="0" y="0" font-size="8.3" text-anchor="end" fill="#000" transform="translate(49 676.49) scale(0.95 1)" >BBC3</text>
<defs><linearGradient id="cbE" x1="0" y1="0" x2="0" y2="1"><stop offset="0" stop-color="#ff2210"/><stop offset="0.1" stop-color="#ff2210"/><stop offset="0.58" stop-color="#000"/><stop offset="0.97" stop-color="#4c90ff"/><stop offset="1" stop-color="#4c90ff"/></linearGradient></defs>
<rect x="153.2" y="294.5" width="15" height="55.1" fill="url(#cbE)" stroke="none" stroke-width="0.8" />
<text x="173.4" y="313.7" font-size="10" text-anchor="start" fill="#000" >1</text>
<text x="173.4" y="330.1" font-size="10" text-anchor="start" fill="#000" >0</text>
<text x="172" y="346.5" font-size="10" text-anchor="start" fill="#000" >-1</text>
<text x="63.9" y="683.2" font-size="9.6" text-anchor="end" fill="#000" transform="rotate(-45 63.9 683.2)" >mock</text>
<text x="79.95" y="683.2" font-size="9.6" text-anchor="end" fill="#000" transform="rotate(-45 79.95 683.2)" >Rt3D 0.1</text>
<text x="96" y="683.2" font-size="9.6" text-anchor="end" fill="#000" transform="rotate(-45 96 683.2)" >Rt3D 1</text>
<text x="112.05" y="683.2" font-size="9.6" text-anchor="end" fill="#000" transform="rotate(-45 112.05 683.2)" >+ pal</text>
<text x="128.1" y="683.2" font-size="9.6" text-anchor="end" fill="#000" transform="rotate(-45 128.1 683.2)" >Rt3D 0.1 + pal</text>
<text x="144.15" y="683.2" font-size="9.6" text-anchor="end" fill="#000" transform="rotate(-45 144.15 683.2)" >Rt3D 1 + pal</text>
</g>
<g id="panel_f">
<text x="178" y="272.5" font-size="14.5" text-anchor="start" fill="#000" >F.</text>
<text x="225.9" y="292.6" font-size="9.2" text-anchor="start" fill="#000" font-style="italic" >ER chaperones (24 h)</text>
<g shape-rendering="crispEdges">
<rect x="224.1" y="297.1" width="16.25" height="9.72" fill="#22427e"/>
<rect x="240.3" y="297.1" width="16.25" height="9.72" fill="#4484f8"/>
<rect x="256.5" y="297.1" width="16.25" height="9.72" fill="#8c100a"/>
<rect x="272.7" y="297.1" width="16.25" height="9.72" fill="#8c100a"/>
<rect x="224.1" y="306.77" width="16.25" height="9.72" fill="#183060"/>
<rect x="240.3" y="306.77" width="16.25" height="9.72" fill="#3464c0"/>
<rect x="256.5" y="306.77" width="16.25" height="9.72" fill="#ff2010"/>
<rect x="272.7" y="306.77" width="16.25" height="9.72" fill="#04101c"/>
<rect x="224.1" y="316.44" width="16.25" height="9.72" fill="#284c98"/>
<rect x="240.3" y="316.44" width="16.25" height="9.72" fill="#4078ec"/>
<rect x="256.5" y="316.44" width="16.25" height="9.72" fill="#941208"/>
<rect x="272.7" y="316.44" width="16.25" height="9.72" fill="#94140c"/>
<rect x="224.1" y="326.11" width="16.25" height="9.72" fill="#3464c0"/>
<rect x="240.3" y="326.11" width="16.25" height="9.72" fill="#3868c8"/>
<rect x="256.5" y="326.11" width="16.25" height="9.72" fill="#d01e12"/>
<rect x="272.7" y="326.11" width="16.25" height="9.72" fill="#64080a"/>
<rect x="224.1" y="335.78" width="16.25" height="9.72" fill="#3c74e0"/>
<rect x="240.3" y="335.78" width="16.25" height="9.72" fill="#1e3c78"/>
<rect x="256.5" y="335.78" width="16.25" height="9.72" fill="#280006"/>
<rect x="272.7" y="335.78" width="16.25" height="9.72" fill="#fc200e"/>
<rect x="224.1" y="345.45" width="16.25" height="9.72" fill="#22427e"/>
<rect x="240.3" y="345.45" width="16.25" height="9.72" fill="#4484f8"/>
<rect x="256.5" y="345.45" width="16.25" height="9.72" fill="#c01c10"/>
<rect x="272.7" y="345.45" width="16.25" height="9.72" fill="#7c0c0a"/>
<rect x="224.1" y="355.12" width="16.25" height="9.72" fill="#1e3c78"/>
<rect x="240.3" y="355.12" width="16.25" height="9.72" fill="#4484f8"/>
<rect x="256.5" y="355.12" width="16.25" height="9.72" fill="#b01a10"/>
<rect x="272.7" y="355.12" width="16.25" height="9.72" fill="#88100a"/>
<rect x="224.1" y="364.79" width="16.25" height="9.72" fill="#3c74e0"/>
<rect x="240.3" y="364.79" width="16.25" height="9.72" fill="#2c54a4"/>
<rect x="256.5" y="364.79" width="16.25" height="9.72" fill="#a0160e"/>
<rect x="272.7" y="364.79" width="16.25" height="9.72" fill="#a81810"/>
<rect x="224.1" y="374.46" width="16.25" height="9.72" fill="#0c0202"/>
<rect x="240.3" y="374.46" width="16.25" height="9.72" fill="#3868c8"/>
<rect x="256.5" y="374.46" width="16.25" height="9.72" fill="#ff2010"/>
<rect x="272.7" y="374.46" width="16.25" height="9.72" fill="#22427e"/>
<rect x="224.1" y="384.13" width="16.25" height="9.72" fill="#284c98"/>
<rect x="240.3" y="384.13" width="16.25" height="9.72" fill="#4078ec"/>
<rect x="256.5" y="384.13" width="16.25" height="9.72" fill="#7c0c0a"/>
<rect x="272.7" y="384.13" width="16.25" height="9.72" fill="#b81a10"/>
<rect x="224.1" y="393.8" width="16.25" height="9.72" fill="#22427e"/>
<rect x="240.3" y="393.8" width="16.25" height="9.72" fill="#4484f8"/>
<rect x="256.5" y="393.8" width="16.25" height="9.72" fill="#c01c10"/>
<rect x="272.7" y="393.8" width="16.25" height="9.72" fill="#68080a"/>
</g>
<text x="0" y="0" font-size="8.3" text-anchor="end" fill="#000" transform="translate(221.2 304.7) scale(0.95 1)" >CALR</text>
<text x="0" y="0" font-size="8.3" text-anchor="end" fill="#000" transform="translate(221.2 314.37) scale(0.95 1)" >CANX</text>
<text x="0" y="0" font-size="8.3" text-anchor="end" fill="#000" transform="translate(221.2 324.04) scale(0.95 1)" >HSPA5</text>
<text x="0" y="0" font-size="8.3" text-anchor="end" fill="#000" transform="translate(221.2 333.71) scale(0.95 1)" >GRP94</text>
<text x="0" y="0" font-size="8.3" text-anchor="end" fill="#000" transform="translate(221.2 343.38) scale(0.95 1)" >PDIA3</text>
<text x="0" y="0" font-size="8.3" text-anchor="end" fill="#000" transform="translate(221.2 353.05) scale(0.95 1)" >PDIA4</text>
<text x="0" y="0" font-size="8.3" text-anchor="end" fill="#000" transform="translate(221.2 362.72) scale(0.95 1)" >PDIA5</text>
<text x="0" y="0" font-size="8.3" text-anchor="end" fill="#000" transform="translate(221.2 372.39) scale(0.95 1)" >PDIA6</text>
<text x="0" y="0" font-size="8.3" text-anchor="end" fill="#000" transform="translate(221.2 382.06) scale(0.95 1)" >ERO1A</text>
<text x="0" y="0" font-size="8.3" text-anchor="end" fill="#000" transform="translate(221.2 391.73) scale(0.95 1)" >ERO1B</text>
<text x="0" y="0" font-size="8.3" text-anchor="end" fill="#000" transform="translate(221.2 401.4) scale(0.95 1)" >ERP44</text>
<defs><linearGradient id="cbF" x1="0" y1="0" x2="0" y2="1"><stop offset="0" stop-color="#e31e0e"/><stop offset="0" stop-color="#ff2210"/><stop offset="0.54" stop-color="#000"/><stop offset="1" stop-color="#4c90ff"/><stop offset="1" stop-color="#4684eb"/></linearGradient></defs>
<rect x="291.2" y="297.9" width="14.8" height="48.7" fill="url(#cbF)" stroke="none" stroke-width="0.8" />
<text x="311" y="309.4" font-size="10" text-anchor="start" fill="#000" >1</text>
<text x="311" y="327.9" font-size="10" text-anchor="start" fill="#000" >0</text>
<text x="309.8" y="346.4" font-size="10" text-anchor="start" fill="#000" >-1</text>
<text x="234.1" y="410.7" font-size="9.6" text-anchor="end" fill="#000" transform="rotate(-45 234.1 410.7)" >mock</text>
<text x="250.3" y="410.7" font-size="9.6" text-anchor="end" fill="#000" transform="rotate(-45 250.3 410.7)" >Rt3D 0.1</text>
<text x="266.5" y="410.7" font-size="9.6" text-anchor="end" fill="#000" transform="rotate(-45 266.5 410.7)" >+ pal</text>
<text x="282.7" y="410.7" font-size="9.6" text-anchor="end" fill="#000" transform="rotate(-45 282.7 410.7)" >Rt3D 0.1 + pal</text>
</g>
<g id="panel_g">
<text x="345" y="272.5" font-size="14.5" text-anchor="start" fill="#000" >G.</text>
<defs><clipPath id="wc4"><circle cx="377.8" cy="313.6" r="15.6"/></clipPath>
<clipPath id="wt4"><rect x="360.3" y="294.4" width="36.45" height="37.4"/></clipPath>
<filter id="wf4" x="0" y="0" width="100%" height="100%" color-interpolation-filters="sRGB"><feTurbulence type="fractalNoise" baseFrequency="0.45" numOctaves="2" seed="23" result="n"/><feColorMatrix in="n" type="matrix" values="0 0 0 0 0.718  0 0 0 0 0.620  0 0 0 0 0.902  0 0 0 2.4 -0.8"/></filter>
<radialGradient id="wb4" cx="50%" cy="50%" r="72%"><stop offset="0.7" stop-color="#e8dcee"/><stop offset="1" stop-color="#cdb9da"/></radialGradient>
<radialGradient id="wg4" cx="50%" cy="50%" r="50%"><stop offset="0" stop-color="#6a46bc"/><stop offset="0.8" stop-color="#6a46bc"/><stop offset="1" stop-color="#6a46bc"/></radialGradient></defs>
<g clip-path="url(#wt4)">
<rect x="360.3" y="294.4" width="36.45" height="37.4" fill="url(#wb4)" stroke="none" stroke-width="0.8" />
<circle cx="377.8" cy="313.6" r="17.5" fill="#fdfcfe" stroke="#dcd3e8" stroke-width="0.5" />
<circle cx="377.8" cy="313.6" r="15.6" fill="url(#wg4)" stroke="none" stroke-width="0.7" />
<rect x="362.2" y="298" width="31.2" height="31.2" fill="#b79ee6" opacity="0.55" filter="url(#wf4)" clip-path="url(#wc4)"/>
</g>
<defs><clipPath id="wc5"><circle cx="415.7" cy="313.1" r="15.6"/></clipPath>
<clipPath id="wt5"><rect x="396.75" y="294.4" width="37.65" height="37.4"/></clipPath>
<filter id="wf5" x="0" y="0" width="100%" height="100%" color-interpolation-filters="sRGB"><feTurbulence type="fractalNoise" baseFrequency="0.45" numOctaves="2" seed="26" result="n"/><feColorMatrix in="n" type="matrix" values="0 0 0 0 0.718  0 0 0 0 0.620  0 0 0 0 0.902  0 0 0 2.4 -0.8"/></filter>
<radialGradient id="wb5" cx="50%" cy="50%" r="72%"><stop offset="0.7" stop-color="#e8dcee"/><stop offset="1" stop-color="#cdb9da"/></radialGradient>
<radialGradient id="wg5" cx="50%" cy="50%" r="50%"><stop offset="0" stop-color="#4a28b0"/><stop offset="0.8" stop-color="#4a28b0"/><stop offset="1" stop-color="#4a28b0"/></radialGradient></defs>
<g clip-path="url(#wt5)">
<rect x="396.75" y="294.4" width="37.65" height="37.4" fill="url(#wb5)" stroke="none" stroke-width="0.8" />
<circle cx="415.7" cy="313.1" r="17.5" fill="#fdfcfe" stroke="#dcd3e8" stroke-width="0.5" />
<circle cx="415.7" cy="313.1" r="15.6" fill="url(#wg5)" stroke="none" stroke-width="0.7" />
<rect x="400.1" y="297.5" width="31.2" height="31.2" fill="#b79ee6" opacity="0.35" filter="url(#wf5)" clip-path="url(#wc5)"/>
</g>
<defs><clipPath id="wc6"><circle cx="453.1" cy="313.1" r="15.6"/></clipPath>
<clipPath id="wt6"><rect x="434.4" y="294.4" width="37.4" height="37.4"/></clipPath>
<filter id="wf6" x="0" y="0" width="100%" height="100%" color-interpolation-filters="sRGB"><feTurbulence type="fractalNoise" baseFrequency="0.45" numOctaves="2" seed="29" result="n"/><feColorMatrix in="n" type="matrix" values="0 0 0 0 0.718  0 0 0 0 0.620  0 0 0 0 0.902  0 0 0 2.4 -0.8"/></filter>
<radialGradient id="wb6" cx="50%" cy="50%" r="72%"><stop offset="0.7" stop-color="#e8dcee"/><stop offset="1" stop-color="#cdb9da"/></radialGradient>
<radialGradient id="wg6" cx="50%" cy="50%" r="50%"><stop offset="0" stop-color="#5634b4"/><stop offset="0.8" stop-color="#5634b4"/><stop offset="1" stop-color="#5634b4"/></radialGradient></defs>
<g clip-path="url(#wt6)">
<rect x="434.4" y="294.4" width="37.4" height="37.4" fill="url(#wb6)" stroke="none" stroke-width="0.8" />
<circle cx="453.1" cy="313.1" r="17.5" fill="#fdfcfe" stroke="#dcd3e8" stroke-width="0.5" />
<circle cx="453.1" cy="313.1" r="15.6" fill="url(#wg6)" stroke="none" stroke-width="0.7" />
<rect x="437.5" y="297.5" width="31.2" height="31.2" fill="#b79ee6" opacity="0.45" filter="url(#wf6)" clip-path="url(#wc6)"/>
</g>
<defs><clipPath id="wc7"><circle cx="378.7" cy="360.6" r="15.6"/></clipPath>
<clipPath id="wt7"><rect x="360.3" y="342.6" width="37" height="35.2"/></clipPath>
<filter id="wf7" x="0" y="0" width="100%" height="100%" color-interpolation-filters="sRGB"><feTurbulence type="fractalNoise" baseFrequency="0.45" numOctaves="2" seed="32" result="n"/><feColorMatrix in="n" type="matrix" values="0 0 0 0 0.718  0 0 0 0 0.620  0 0 0 0 0.902  0 0 0 2.4 -0.8"/></filter>
<radialGradient id="wb7" cx="50%" cy="50%" r="72%"><stop offset="0.7" stop-color="#e8dcee"/><stop offset="1" stop-color="#cdb9da"/></radialGradient>
<radialGradient id="wg7" cx="50%" cy="50%" r="50%"><stop offset="0" stop-color="#4c2aae"/><stop offset="0.8" stop-color="#4c2aae"/><stop offset="1" stop-color="#4c2aae"/></radialGradient></defs>
<g clip-path="url(#wt7)">
<rect x="360.3" y="342.6" width="37" height="35.2" fill="url(#wb7)" stroke="none" stroke-width="0.8" />
<circle cx="378.7" cy="360.6" r="17.5" fill="#fdfcfe" stroke="#dcd3e8" stroke-width="0.5" />
<circle cx="378.7" cy="360.6" r="15.6" fill="url(#wg7)" stroke="none" stroke-width="0.7" />
<rect x="363.1" y="345" width="31.2" height="31.2" fill="#b79ee6" opacity="0.38" filter="url(#wf7)" clip-path="url(#wc7)"/>
</g>
<defs><clipPath id="wc8"><circle cx="415.9" cy="360.6" r="15.6"/></clipPath>
<clipPath id="wt8"><rect x="397.3" y="342.6" width="37.8" height="35.2"/></clipPath>
<filter id="wf8" x="0" y="0" width="100%" height="100%" color-interpolation-filters="sRGB"><feTurbulence type="fractalNoise" baseFrequency="0.45" numOctaves="2" seed="35" result="n"/><feColorMatrix in="n" type="matrix" values="0 0 0 0 0.718  0 0 0 0 0.620  0 0 0 0 0.902  0 0 0 2.4 -0.8"/></filter>
<radialGradient id="wb8" cx="50%" cy="50%" r="72%"><stop offset="0.7" stop-color="#e8dcee"/><stop offset="1" stop-color="#cdb9da"/></radialGradient>
<radialGradient id="wg8" cx="50%" cy="50%" r="50%"><stop offset="0" stop-color="#4a28ac"/><stop offset="0.8" stop-color="#4a28ac"/><stop offset="1" stop-color="#4a28ac"/></radialGradient></defs>
<g clip-path="url(#wt8)">
<rect x="397.3" y="342.6" width="37.8" height="35.2" fill="url(#wb8)" stroke="none" stroke-width="0.8" />
<circle cx="415.9" cy="360.6" r="17.5" fill="#fdfcfe" stroke="#dcd3e8" stroke-width="0.5" />
<circle cx="415.9" cy="360.6" r="15.6" fill="url(#wg8)" stroke="none" stroke-width="0.7" />
<rect x="400.3" y="345" width="31.2" height="31.2" fill="#b79ee6" opacity="0.35" filter="url(#wf8)" clip-path="url(#wc8)"/>
</g>
<defs><clipPath id="wc9"><circle cx="454.3" cy="360.6" r="15.6"/></clipPath>
<clipPath id="wt9"><rect x="435.1" y="342.6" width="36.7" height="35.2"/></clipPath>
<filter id="wf9" x="0" y="0" width="100%" height="100%" color-interpolation-filters="sRGB"><feTurbulence type="fractalNoise" baseFrequency="0.45" numOctaves="2" seed="38" result="n"/><feColorMatrix in="n" type="matrix" values="0 0 0 0 0.718  0 0 0 0 0.620  0 0 0 0 0.902  0 0 0 2.4 -0.8"/></filter>
<radialGradient id="wb9" cx="50%" cy="50%" r="72%"><stop offset="0.7" stop-color="#e8dcee"/><stop offset="1" stop-color="#cdb9da"/></radialGradient>
<radialGradient id="wg9" cx="50%" cy="50%" r="50%"><stop offset="0" stop-color="#4a28aa"/><stop offset="0.8" stop-color="#4a28aa"/><stop offset="1" stop-color="#4a28aa"/></radialGradient></defs>
<g clip-path="url(#wt9)">
<rect x="435.1" y="342.6" width="36.7" height="35.2" fill="url(#wb9)" stroke="none" stroke-width="0.8" />
<circle cx="454.3" cy="360.6" r="17.5" fill="#fdfcfe" stroke="#dcd3e8" stroke-width="0.5" />
<circle cx="454.3" cy="360.6" r="15.6" fill="url(#wg9)" stroke="none" stroke-width="0.7" />
<rect x="438.7" y="345" width="31.2" height="31.2" fill="#b79ee6" opacity="0.38" filter="url(#wf9)" clip-path="url(#wc9)"/>
</g>
<defs><clipPath id="wc10"><circle cx="378.5" cy="408.3" r="15.6"/></clipPath>
<clipPath id="wt10"><rect x="360.3" y="390" width="36.9" height="36.5"/></clipPath>
<filter id="wf10" x="0" y="0" width="100%" height="100%" color-interpolation-filters="sRGB"><feTurbulence type="fractalNoise" baseFrequency="0.45" numOctaves="2" seed="41" result="n"/><feColorMatrix in="n" type="matrix" values="0 0 0 0 0.718  0 0 0 0 0.620  0 0 0 0 0.902  0 0 0 2.4 -0.8"/></filter>
<radialGradient id="wb10" cx="50%" cy="50%" r="72%"><stop offset="0.7" stop-color="#e8dcee"/><stop offset="1" stop-color="#cdb9da"/></radialGradient>
<radialGradient id="wg10" cx="50%" cy="50%" r="50%"><stop offset="0" stop-color="#6240b8"/><stop offset="0.8" stop-color="#6240b8"/><stop offset="1" stop-color="#6240b8"/></radialGradient></defs>
<g clip-path="url(#wt10)">
<rect x="360.3" y="390" width="36.9" height="36.5" fill="url(#wb10)" stroke="none" stroke-width="0.8" />
<circle cx="378.5" cy="408.3" r="17.5" fill="#fdfcfe" stroke="#dcd3e8" stroke-width="0.5" />
<circle cx="378.5" cy="408.3" r="15.6" fill="url(#wg10)" stroke="none" stroke-width="0.7" />
<rect x="362.9" y="392.7" width="31.2" height="31.2" fill="#b79ee6" opacity="0.5" filter="url(#wf10)" clip-path="url(#wc10)"/>
</g>
<defs><clipPath id="wc11"><circle cx="415.9" cy="408.3" r="15.6"/></clipPath>
<clipPath id="wt11"><rect x="397.2" y="390" width="37.85" height="36.5"/></clipPath>
<filter id="wf11" x="0" y="0" width="100%" height="100%" color-interpolation-filters="sRGB"><feTurbulence type="fractalNoise" baseFrequency="0.45" numOctaves="2" seed="44" result="n"/><feColorMatrix in="n" type="matrix" values="0 0 0 0 0.718  0 0 0 0 0.620  0 0 0 0 0.902  0 0 0 2.4 -0.8"/></filter>
<radialGradient id="wb11" cx="50%" cy="50%" r="72%"><stop offset="0.7" stop-color="#e8dcee"/><stop offset="1" stop-color="#cdb9da"/></radialGradient>
<radialGradient id="wg11" cx="50%" cy="50%" r="50%"><stop offset="0" stop-color="#603eb6"/><stop offset="0.8" stop-color="#603eb6"/><stop offset="1" stop-color="#603eb6"/></radialGradient></defs>
<g clip-path="url(#wt11)">
<rect x="397.2" y="390" width="37.85" height="36.5" fill="url(#wb11)" stroke="none" stroke-width="0.8" />
<circle cx="415.9" cy="408.3" r="17.5" fill="#fdfcfe" stroke="#dcd3e8" stroke-width="0.5" />
<circle cx="415.9" cy="408.3" r="15.6" fill="url(#wg11)" stroke="none" stroke-width="0.7" />
<rect x="400.3" y="392.7" width="31.2" height="31.2" fill="#b79ee6" opacity="0.48" filter="url(#wf11)" clip-path="url(#wc11)"/>
</g>
<defs><clipPath id="wc12"><circle cx="454.2" cy="408.3" r="15.6"/></clipPath>
<clipPath id="wt12"><rect x="435.05" y="390" width="36.75" height="36.5"/></clipPath>
<filter id="wf12" x="0" y="0" width="100%" height="100%" color-interpolation-filters="sRGB"><feTurbulence type="fractalNoise" baseFrequency="0.45" numOctaves="2" seed="47" result="n"/><feColorMatrix in="n" type="matrix" values="0 0 0 0 0.718  0 0 0 0 0.620  0 0 0 0 0.902  0 0 0 2.4 -0.8"/></filter>
<radialGradient id="wb12" cx="50%" cy="50%" r="72%"><stop offset="0.7" stop-color="#e8dcee"/><stop offset="1" stop-color="#cdb9da"/></radialGradient>
<radialGradient id="wg12" cx="50%" cy="50%" r="50%"><stop offset="0" stop-color="#8568ba"/><stop offset="0.8" stop-color="#8568ba"/><stop offset="1" stop-color="#8568ba"/></radialGradient></defs>
<g clip-path="url(#wt12)">
<rect x="435.05" y="390" width="36.75" height="36.5" fill="url(#wb12)" stroke="none" stroke-width="0.8" />
<circle cx="454.2" cy="408.3" r="17.5" fill="#fdfcfe" stroke="#dcd3e8" stroke-width="0.5" />
<circle cx="454.2" cy="408.3" r="15.6" fill="url(#wg12)" stroke="none" stroke-width="0.7" />
<rect x="438.6" y="392.7" width="31.2" height="31.2" fill="#b79ee6" opacity="0.55" filter="url(#wf12)" clip-path="url(#wc12)"/>
</g>
<line x1="396.6" y1="294.4" x2="396.6" y2="331.8" stroke="#000" stroke-width="0.9" stroke-dasharray="2.2 1.2"/>
<line x1="360.3" y1="331.8" x2="396.6" y2="331.8" stroke="#000" stroke-width="0.9" stroke-dasharray="2.2 1.2"/>
<text x="381.2" y="340.9" font-size="9.4" text-anchor="middle" fill="#000" >SCR</text>
<text x="415.9" y="340.9" font-size="9.4" text-anchor="middle">si<tspan font-style="italic">DDIT3</tspan></text>
<text x="453.2" y="340.9" font-size="9.4" text-anchor="middle">si<tspan font-style="italic">GCN2</tspan></text>
<text x="378.5" y="388.1" font-size="9.4" text-anchor="middle">si<tspan font-style="italic">PERK</tspan></text>
<text x="415.9" y="388.1" font-size="9.4" text-anchor="middle">si<tspan font-style="italic">ATF6</tspan></text>
<text x="453.6" y="388.1" font-size="9.4" text-anchor="middle">si<tspan font-style="italic">XBP1</tspan></text>
<text x="374.6" y="437.1" font-size="9.4" text-anchor="middle">si<tspan font-style="italic">GADD34</tspan></text>
<text x="415.9" y="437.1" font-size="9.4" text-anchor="middle">si<tspan font-style="italic">ATF4</tspan></text>
<text x="453.2" y="437.1" font-size="9.4" text-anchor="middle">si<tspan font-style="italic">PKR</tspan></text>
<line x1="553.9" y1="315.9" x2="553.9" y2="403.7" stroke="#000" stroke-width="1" />
<line x1="550.5" y1="403.2" x2="553.9" y2="403.2" stroke="#000" stroke-width="1" />
<text x="547.5" y="407.52" font-size="12" text-anchor="end" fill="#000" >0</text>
<line x1="550.5" y1="381.65" x2="553.9" y2="381.65" stroke="#000" stroke-width="1" />
<text x="547.5" y="385.97" font-size="12" text-anchor="end" fill="#000" >50000</text>
<line x1="550.5" y1="360.1" x2="553.9" y2="360.1" stroke="#000" stroke-width="1" />
<text x="547.5" y="364.42" font-size="12" text-anchor="end" fill="#000" >100000</text>
<line x1="550.5" y1="338.55" x2="553.9" y2="338.55" stroke="#000" stroke-width="1" />
<text x="547.5" y="342.87" font-size="12" text-anchor="end" fill="#000" >150000</text>
<line x1="550.5" y1="317" x2="553.9" y2="317" stroke="#000" stroke-width="1" />
<text x="547.5" y="321.32" font-size="12" text-anchor="end" fill="#000" >200000</text>
<line x1="553.9" y1="403.2" x2="641.6" y2="403.2" stroke="#000" stroke-width="1" />
<line x1="565.3" y1="403.2" x2="565.3" y2="406" stroke="#000" stroke-width="1" />
<line x1="581.5" y1="403.2" x2="581.5" y2="406" stroke="#000" stroke-width="1" />
<line x1="597.7" y1="403.2" x2="597.7" y2="406" stroke="#000" stroke-width="1" />
<line x1="613.9" y1="403.2" x2="613.9" y2="406" stroke="#000" stroke-width="1" />
<line x1="630.1" y1="403.2" x2="630.1" y2="406" stroke="#000" stroke-width="1" />
<text x="501.2" y="359.8" font-size="11.3" text-anchor="middle" fill="#000" transform="rotate(-90 501.2 359.8)" >OD (arbitrary units)</text>
<text x="567.9" y="416.7" font-size="12" text-anchor="end" fill="#000" transform="rotate(-45 567.9 416.7)" >SCR</text>
<text x="584.1" y="416.7" font-size="12" text-anchor="end" transform="rotate(-45 584.1 416.7)">si<tspan font-style="italic">DDIT3</tspan></text>
<text x="600.3" y="416.7" font-size="12" text-anchor="end" transform="rotate(-45 600.3 416.7)">si<tspan font-style="italic">PERK</tspan></text>
<text x="616.5" y="416.7" font-size="12" text-anchor="end" transform="rotate(-45 616.5 416.7)">si<tspan font-style="italic">ATF6</tspan></text>
<text x="632.7" y="416.7" font-size="12" text-anchor="end" transform="rotate(-45 632.7 416.7)">si<tspan font-style="italic">XBP1</tspan></text>
<line x1="566.8" y1="306.2" x2="632.6" y2="306.2" stroke="#000" stroke-width="1.1" />
<text x="599" y="308.26" font-size="11.5" text-anchor="middle" fill="#000" stroke="#000" stroke-width="0.25">*</text>
<line x1="566.8" y1="314.9" x2="613.8" y2="314.9" stroke="#000" stroke-width="1.1" />
<text x="590.1" y="316.96" font-size="11.5" text-anchor="middle" fill="#000" stroke="#000" stroke-width="0.25">***</text>
<line x1="566.8" y1="323.9" x2="598.2" y2="323.9" stroke="#000" stroke-width="1.1" />
<text x="581.8" y="325.96" font-size="11.5" text-anchor="middle" fill="#000" stroke="#000" stroke-width="0.25">**</text>
<line x1="566.8" y1="330.8" x2="582.7" y2="330.8" stroke="#000" stroke-width="1.1" />
<text x="573.4" y="332.87" font-size="11.5" text-anchor="middle" fill="#000" stroke="#000" stroke-width="0.25">**</text>
<line x1="565.3" y1="380.8" x2="565.3" y2="388.4" stroke="#000" stroke-width="0.9" />
<line x1="562.9" y1="380.8" x2="567.7" y2="380.8" stroke="#000" stroke-width="0.9" />
<line x1="562.9" y1="388.4" x2="567.7" y2="388.4" stroke="#000" stroke-width="0.9" />
<line x1="560.7" y1="384.6" x2="569.9" y2="384.6" stroke="#000" stroke-width="1" />
<line x1="581.5" y1="342.7" x2="581.5" y2="357.4" stroke="#000" stroke-width="0.9" />
<line x1="578.9" y1="342.7" x2="584.1" y2="342.7" stroke="#000" stroke-width="0.9" />
<line x1="578.9" y1="357.4" x2="584.1" y2="357.4" stroke="#000" stroke-width="0.9" />
<line x1="576.5" y1="350" x2="586.5" y2="350" stroke="#000" stroke-width="1" />
<line x1="597.7" y1="342.5" x2="597.7" y2="357" stroke="#000" stroke-width="0.9" />
<line x1="595.1" y1="342.5" x2="600.3" y2="342.5" stroke="#000" stroke-width="0.9" />
<line x1="595.1" y1="357" x2="600.3" y2="357" stroke="#000" stroke-width="0.9" />
<line x1="592.7" y1="349.3" x2="602.7" y2="349.3" stroke="#000" stroke-width="1" />
<line x1="613.9" y1="331.4" x2="613.9" y2="345.4" stroke="#000" stroke-width="0.9" />
<line x1="611.3" y1="331.4" x2="616.5" y2="331.4" stroke="#000" stroke-width="0.9" />
<line x1="611.3" y1="345.4" x2="616.5" y2="345.4" stroke="#000" stroke-width="0.9" />
<line x1="608.9" y1="338.5" x2="618.9" y2="338.5" stroke="#000" stroke-width="1" />
<line x1="630.1" y1="350.2" x2="630.1" y2="363.4" stroke="#000" stroke-width="0.9" />
<line x1="627.5" y1="350.2" x2="632.7" y2="350.2" stroke="#000" stroke-width="0.9" />
<line x1="627.5" y1="363.4" x2="632.7" y2="363.4" stroke="#000" stroke-width="0.9" />
<line x1="625.1" y1="356.8" x2="635.1" y2="356.8" stroke="#000" stroke-width="1" />
<circle cx="565.3" cy="376.6" r="2.7" fill="#3f8a22" stroke="#000" stroke-width="0.7" />
<circle cx="562.3" cy="385.2" r="2.7" fill="#f06ae8" stroke="#000" stroke-width="0.7" />
<circle cx="568" cy="385.8" r="2.7" fill="#f5821f" stroke="#000" stroke-width="0.7" />
<circle cx="565.3" cy="392.4" r="2.7" fill="#4c93f2" stroke="#000" stroke-width="0.7" />
<circle cx="581.8" cy="335.2" r="2.7" fill="#3f8a22" stroke="#000" stroke-width="0.7" />
<circle cx="578.8" cy="358.3" r="2.7" fill="#4c93f2" stroke="#000" stroke-width="0.7" />
<circle cx="584.2" cy="356.8" r="2.7" fill="#f5821f" stroke="#000" stroke-width="0.7" />
<circle cx="598.2" cy="335.8" r="2.7" fill="#f5821f" stroke="#000" stroke-width="0.7" />
<circle cx="598.2" cy="351.4" r="2.7" fill="#3f8a22" stroke="#000" stroke-width="0.7" />
<circle cx="598.2" cy="360.1" r="2.7" fill="#4c93f2" stroke="#000" stroke-width="0.7" />
<circle cx="613.8" cy="329.3" r="2.7" fill="#f5821f" stroke="#000" stroke-width="0.7" />
<circle cx="613.8" cy="335" r="2.7" fill="#3f8a22" stroke="#000" stroke-width="0.7" />
<circle cx="613.8" cy="350.8" r="2.7" fill="#4c93f2" stroke="#000" stroke-width="0.7" />
<circle cx="627.9" cy="348.4" r="2.7" fill="#f06ae8" stroke="#000" stroke-width="0.7" />
<circle cx="633.2" cy="346.9" r="2.7" fill="#f5821f" stroke="#000" stroke-width="0.7" />
<circle cx="630.6" cy="356.5" r="2.7" fill="#4c93f2" stroke="#000" stroke-width="0.7" />
<circle cx="630.6" cy="375.1" r="2.7" fill="#3f8a22" stroke="#000" stroke-width="0.7" />
</g>
<g id="panel_h">
<text x="155.5" y="492.8" font-size="14.5" text-anchor="start" fill="#000" >H.</text>
<rect x="199.4" y="606.33" width="10" height="12.97" fill="#fff" stroke="#000" stroke-width="0.8" />
<rect x="214.5" y="604.77" width="10" height="14.53" fill="#fff" stroke="#000" stroke-width="0.8" />
<rect x="229.6" y="598.16" width="10" height="21.14" fill="#fff" stroke="#000" stroke-width="0.8" />
<line x1="234.6" y1="595.1" x2="234.6" y2="600.9" stroke="#000" stroke-width="0.9" />
<line x1="232.2" y1="595.1" x2="237" y2="595.1" stroke="#000" stroke-width="0.9" />
<line x1="232.2" y1="600.9" x2="237" y2="600.9" stroke="#000" stroke-width="0.9" />
<rect x="244.7" y="573.52" width="10" height="45.78" fill="#fff" stroke="#000" stroke-width="0.8" />
<line x1="249.7" y1="564.9" x2="249.7" y2="580.6" stroke="#000" stroke-width="0.9" />
<line x1="247.3" y1="564.9" x2="252.1" y2="564.9" stroke="#000" stroke-width="0.9" />
<line x1="247.3" y1="580.6" x2="252.1" y2="580.6" stroke="#000" stroke-width="0.9" />
<rect x="270.3" y="605.68" width="10" height="13.62" fill="#fff" stroke="#000" stroke-width="0.8" />
<rect x="285.4" y="601.66" width="10" height="17.64" fill="#fff" stroke="#000" stroke-width="0.8" />
<line x1="290.4" y1="599" x2="290.4" y2="604" stroke="#000" stroke-width="0.9" />
<line x1="288" y1="599" x2="292.8" y2="599" stroke="#000" stroke-width="0.9" />
<line x1="288" y1="604" x2="292.8" y2="604" stroke="#000" stroke-width="0.9" />
<rect x="300.5" y="568.85" width="10" height="50.45" fill="#fff" stroke="#000" stroke-width="0.8" />
<line x1="305.5" y1="560.4" x2="305.5" y2="577.5" stroke="#000" stroke-width="0.9" />
<line x1="303.1" y1="560.4" x2="307.9" y2="560.4" stroke="#000" stroke-width="0.9" />
<line x1="303.1" y1="577.5" x2="307.9" y2="577.5" stroke="#000" stroke-width="0.9" />
<rect x="315.6" y="536.55" width="10" height="82.75" fill="#fff" stroke="#000" stroke-width="0.8" />
<line x1="320.6" y1="528.9" x2="320.6" y2="543.9" stroke="#000" stroke-width="0.9" />
<line x1="318.2" y1="528.9" x2="323" y2="528.9" stroke="#000" stroke-width="0.9" />
<line x1="318.2" y1="543.9" x2="323" y2="543.9" stroke="#000" stroke-width="0.9" />
<line x1="191.5" y1="515" x2="191.5" y2="619.8" stroke="#000" stroke-width="1" />
<line x1="187.1" y1="619.3" x2="191.5" y2="619.3" stroke="#000" stroke-width="1" />
<text x="0" y="0" font-size="11" text-anchor="end" fill="#000" transform="translate(185 623.26) scale(1.1 1)" >0</text>
<line x1="187.1" y1="593.36" x2="191.5" y2="593.36" stroke="#000" stroke-width="1" />
<text x="0" y="0" font-size="11" text-anchor="end" fill="#000" transform="translate(185 597.32) scale(1.1 1)" >2</text>
<line x1="187.1" y1="567.42" x2="191.5" y2="567.42" stroke="#000" stroke-width="1" />
<text x="0" y="0" font-size="11" text-anchor="end" fill="#000" transform="translate(185 571.38) scale(1.1 1)" >4</text>
<line x1="187.1" y1="541.48" x2="191.5" y2="541.48" stroke="#000" stroke-width="1" />
<text x="0" y="0" font-size="11" text-anchor="end" fill="#000" transform="translate(185 545.44) scale(1.1 1)" >6</text>
<line x1="187.1" y1="515.54" x2="191.5" y2="515.54" stroke="#000" stroke-width="1" />
<text x="0" y="0" font-size="11" text-anchor="end" fill="#000" transform="translate(185 519.5) scale(1.1 1)" >8</text>
<line x1="191.5" y1="619.3" x2="332.1" y2="619.3" stroke="#000" stroke-width="1" />
<line x1="204.4" y1="619.3" x2="204.4" y2="621.9" stroke="#000" stroke-width="1" />
<line x1="219.5" y1="619.3" x2="219.5" y2="621.9" stroke="#000" stroke-width="1" />
<line x1="234.6" y1="619.3" x2="234.6" y2="621.9" stroke="#000" stroke-width="1" />
<line x1="249.7" y1="619.3" x2="249.7" y2="621.9" stroke="#000" stroke-width="1" />
<line x1="275.3" y1="619.3" x2="275.3" y2="621.9" stroke="#000" stroke-width="1" />
<line x1="290.4" y1="619.3" x2="290.4" y2="621.9" stroke="#000" stroke-width="1" />
<line x1="305.5" y1="619.3" x2="305.5" y2="621.9" stroke="#000" stroke-width="1" />
<line x1="320.6" y1="619.3" x2="320.6" y2="621.9" stroke="#000" stroke-width="1" />
<text x="0" y="0" font-size="10.8" text-anchor="middle" transform="translate(170.8 567.5) rotate(-90) scale(1.08 1)">ddCT [<tspan font-style="italic">DDIT3</tspan>]</text>
<text x="206.6" y="633.4" font-size="11.3" text-anchor="end" fill="#000" transform="rotate(-45 206.6 633.4)" >0</text>
<text x="221.7" y="633.4" font-size="11.3" text-anchor="end" fill="#000" transform="rotate(-45 221.7 633.4)" >0.01</text>
<text x="236.8" y="633.4" font-size="11.3" text-anchor="end" fill="#000" transform="rotate(-45 236.8 633.4)" >0.1</text>
<text x="251.9" y="633.4" font-size="11.3" text-anchor="end" fill="#000" transform="rotate(-45 251.9 633.4)" >1</text>
<text x="277.5" y="633.4" font-size="11.3" text-anchor="end" fill="#000" transform="rotate(-45 277.5 633.4)" >0</text>
<text x="292.6" y="633.4" font-size="11.3" text-anchor="end" fill="#000" transform="rotate(-45 292.6 633.4)" >0.01</text>
<text x="307.7" y="633.4" font-size="11.3" text-anchor="end" fill="#000" transform="rotate(-45 307.7 633.4)" >0.1</text>
<text x="322.8" y="633.4" font-size="11.3" text-anchor="end" fill="#000" transform="rotate(-45 322.8 633.4)" >1</text>
<text x="262.1" y="667.8" font-size="11.2" text-anchor="middle" fill="#000" >Rt3D (MOI)</text>
<circle cx="191.3" cy="684.3" r="2.4" fill="#fff" stroke="#000" stroke-width="0.8" />
<text x="211" y="688.2" font-size="11" text-anchor="start" fill="#000" >- pal</text>
<rect x="260.1" y="681.6" width="5.4" height="5.4" fill="#fff" stroke="#000" stroke-width="0.8" />
<text x="283.3" y="688.2" font-size="11" text-anchor="start" fill="#000" >+ pal</text>
<circle cx="201.5" cy="606.1" r="2.5" fill="#4c93f2" stroke="#000" stroke-width="0.7" />
<circle cx="207.3" cy="606.1" r="2.5" fill="#f5821f" stroke="#000" stroke-width="0.7" />
<circle cx="204.3" cy="606.1" r="2.5" fill="#3f8a22" stroke="#000" stroke-width="0.7" />
<circle cx="216.5" cy="606.4" r="2.5" fill="#f5821f" stroke="#000" stroke-width="0.7" />
<circle cx="222" cy="604.8" r="2.5" fill="#4c93f2" stroke="#000" stroke-width="0.7" />
<circle cx="219.4" cy="602.5" r="2.5" fill="#3f8a22" stroke="#000" stroke-width="0.7" />
<circle cx="234.9" cy="600.9" r="2.5" fill="#4c93f2" stroke="#000" stroke-width="0.7" />
<circle cx="234.9" cy="599" r="2.5" fill="#f5821f" stroke="#000" stroke-width="0.7" />
<circle cx="234.9" cy="595.1" r="2.5" fill="#3f8a22" stroke="#000" stroke-width="0.7" />
<circle cx="249.9" cy="585.1" r="2.5" fill="#4c93f2" stroke="#000" stroke-width="0.7" />
<circle cx="249.9" cy="572" r="2.5" fill="#f5821f" stroke="#000" stroke-width="0.7" />
<circle cx="249.9" cy="562.8" r="2.5" fill="#3f8a22" stroke="#000" stroke-width="0.7" />
<rect x="270.1" y="606.4" width="4.8" height="4.8" fill="#f5821f" stroke="#000" stroke-width="0.7" />
<rect x="274.8" y="603.7" width="4.8" height="4.8" fill="#4c93f2" stroke="#000" stroke-width="0.7" />
<rect x="272.4" y="601.4" width="4.8" height="4.8" fill="#3f8a22" stroke="#000" stroke-width="0.7" />
<rect x="285.3" y="602.4" width="4.8" height="4.8" fill="#4c93f2" stroke="#000" stroke-width="0.7" />
<rect x="290" y="599.3" width="4.8" height="4.8" fill="#f5821f" stroke="#000" stroke-width="0.7" />
<rect x="287.6" y="593.5" width="4.8" height="4.8" fill="#3f8a22" stroke="#000" stroke-width="0.7" />
<rect x="302.9" y="583.8" width="4.8" height="4.8" fill="#4c93f2" stroke="#000" stroke-width="0.7" />
<rect x="300.8" y="557.8" width="4.8" height="4.8" fill="#3f8a22" stroke="#000" stroke-width="0.7" />
<rect x="305" y="557.8" width="4.8" height="4.8" fill="#f5821f" stroke="#000" stroke-width="0.7" />
<rect x="317.9" y="546.5" width="4.8" height="4.8" fill="#4c93f2" stroke="#000" stroke-width="0.7" />
<rect x="317.9" y="534.1" width="4.8" height="4.8" fill="#f5821f" stroke="#000" stroke-width="0.7" />
<rect x="317.9" y="521" width="4.8" height="4.8" fill="#3f8a22" stroke="#000" stroke-width="0.7" />
<line x1="250.1" y1="516" x2="320.8" y2="516" stroke="#111" stroke-width="0.9" />
<text x="285.3" y="518.54" font-size="13.8" text-anchor="middle" fill="#000" stroke="#000" stroke-width="0.25">***</text>
<line x1="234.4" y1="528.6" x2="305.3" y2="528.6" stroke="#111" stroke-width="0.9" />
<text x="270.9" y="531.24" font-size="13.8" text-anchor="middle" fill="#000" stroke="#000" stroke-width="0.25">**</text>
</g>
<g id="panel_i">
<text x="334.5" y="492.8" font-size="14.5" text-anchor="start" fill="#000" >I.</text>
<text x="348.5" y="578.5" font-size="9" text-anchor="middle" fill="#000" transform="rotate(-90 348.5 578.5)" >Surviving fraction</text>
<rect x="383.2" y="532.9" width="9.4" height="86.4" fill="#fff" stroke="#000" stroke-width="0.8" />
<rect x="397.3" y="555.36" width="9.2" height="63.94" fill="#fff" stroke="#000" stroke-width="0.8" />
<rect x="420.1" y="544.82" width="9.2" height="74.48" fill="#fff" stroke="#000" stroke-width="0.8" />
<rect x="433.8" y="584.91" width="9.2" height="34.39" fill="#fff" stroke="#000" stroke-width="0.8" />
<line x1="401.9" y1="550.5" x2="401.9" y2="560.3" stroke="#000" stroke-width="0.9" />
<line x1="399.5" y1="550.5" x2="404.3" y2="550.5" stroke="#000" stroke-width="0.9" />
<line x1="399.5" y1="560.3" x2="404.3" y2="560.3" stroke="#000" stroke-width="0.9" />
<line x1="375.8" y1="532.4" x2="375.8" y2="619.8" stroke="#000" stroke-width="1" />
<line x1="373.3" y1="619.3" x2="375.8" y2="619.3" stroke="#000" stroke-width="1" />
<text x="370.2" y="622.72" font-size="9.5" text-anchor="end" fill="#000" >0.0</text>
<line x1="373.3" y1="576.1" x2="375.8" y2="576.1" stroke="#000" stroke-width="1" />
<text x="370.2" y="579.52" font-size="9.5" text-anchor="end" fill="#000" >0.5</text>
<line x1="373.3" y1="532.9" x2="375.8" y2="532.9" stroke="#000" stroke-width="1" />
<text x="370.2" y="536.32" font-size="9.5" text-anchor="end" fill="#000" >1.0</text>
<line x1="375.8" y1="619.3" x2="449.5" y2="619.3" stroke="#000" stroke-width="1" />
<line x1="395" y1="619.3" x2="395" y2="622.7" stroke="#000" stroke-width="1" />
<line x1="431.3" y1="619.3" x2="431.3" y2="622.7" stroke="#000" stroke-width="1" />
<text x="408.9" y="510.4" font-size="9" text-anchor="middle" fill="#000" >A375</text>
<text x="395.6" y="632.6" font-size="9.1" text-anchor="end" fill="#000" transform="rotate(-45 395.6 632.6)" >- TG</text>
<text x="431.9" y="632.6" font-size="9.1" text-anchor="end" fill="#000" transform="rotate(-45 431.9 632.6)" >+TG</text>
<circle cx="385.7" cy="532.9" r="2.5" fill="#4c93f2" stroke="#000" stroke-width="0.7" />
<circle cx="390.4" cy="532.9" r="2.5" fill="#f5821f" stroke="#000" stroke-width="0.7" />
<circle cx="388" cy="532.9" r="2.5" fill="#3f8a22" stroke="#000" stroke-width="0.7" />
<rect x="399.5" y="561" width="4.8" height="4.8" fill="#f5821f" stroke="#000" stroke-width="0.7" />
<rect x="399.5" y="553.6" width="4.8" height="4.8" fill="#4c93f2" stroke="#000" stroke-width="0.7" />
<rect x="399.5" y="543.3" width="4.8" height="4.8" fill="#3f8a22" stroke="#000" stroke-width="0.7" />
<circle cx="421.7" cy="547.3" r="2.5" fill="#3f8a22" stroke="#000" stroke-width="0.7" />
<circle cx="426.8" cy="545.4" r="2.5" fill="#4c93f2" stroke="#000" stroke-width="0.7" />
<circle cx="424.4" cy="543.2" r="2.5" fill="#f5821f" stroke="#000" stroke-width="0.7" />
<rect x="433.8" y="583.5" width="4.8" height="4.8" fill="#3f8a22" stroke="#000" stroke-width="0.7" />
<rect x="438" y="582.5" width="4.8" height="4.8" fill="#f5821f" stroke="#000" stroke-width="0.7" />
<rect x="436.2" y="577.1" width="4.8" height="4.8" fill="#4c93f2" stroke="#000" stroke-width="0.7" />
<line x1="401.5" y1="528.7" x2="444.2" y2="528.7" stroke="#111" stroke-width="0.9" />
<text x="421.7" y="530.47" font-size="11.5" text-anchor="middle" fill="#000" stroke="#000" stroke-width="0.25">***</text>
<line x1="424.3" y1="539" x2="444.2" y2="539" stroke="#111" stroke-width="0.9" />
<text x="433.6" y="540.76" font-size="11.5" text-anchor="middle" fill="#000" stroke="#000" stroke-width="0.25">****</text>
<rect x="481.1" y="532.9" width="9.6" height="86.4" fill="#fff" stroke="#000" stroke-width="0.8" />
<rect x="494.9" y="559.25" width="9.3" height="60.05" fill="#fff" stroke="#000" stroke-width="0.8" />
<rect x="518" y="560.2" width="9" height="59.1" fill="#fff" stroke="#000" stroke-width="0.8" />
<rect x="531.8" y="585.86" width="9" height="33.44" fill="#fff" stroke="#000" stroke-width="0.8" />
<line x1="499.5" y1="552.8" x2="499.5" y2="567.3" stroke="#000" stroke-width="0.9" />
<line x1="497.1" y1="552.8" x2="501.9" y2="552.8" stroke="#000" stroke-width="0.9" />
<line x1="497.1" y1="567.3" x2="501.9" y2="567.3" stroke="#000" stroke-width="0.9" />
<line x1="522.5" y1="550.6" x2="522.5" y2="570.5" stroke="#000" stroke-width="0.9" />
<line x1="520.1" y1="550.6" x2="524.9" y2="550.6" stroke="#000" stroke-width="0.9" />
<line x1="520.1" y1="570.5" x2="524.9" y2="570.5" stroke="#000" stroke-width="0.9" />
<line x1="536.3" y1="578.5" x2="536.3" y2="593" stroke="#000" stroke-width="0.9" />
<line x1="533.9" y1="578.5" x2="538.7" y2="578.5" stroke="#000" stroke-width="0.9" />
<line x1="533.9" y1="593" x2="538.7" y2="593" stroke="#000" stroke-width="0.9" />
<line x1="473.7" y1="532.4" x2="473.7" y2="619.8" stroke="#000" stroke-width="1" />
<line x1="471.2" y1="619.3" x2="473.7" y2="619.3" stroke="#000" stroke-width="1" />
<text x="468.1" y="622.72" font-size="9.5" text-anchor="end" fill="#000" >0.0</text>
<line x1="471.2" y1="576.1" x2="473.7" y2="576.1" stroke="#000" stroke-width="1" />
<text x="468.1" y="579.52" font-size="9.5" text-anchor="end" fill="#000" >0.5</text>
<line x1="471.2" y1="532.9" x2="473.7" y2="532.9" stroke="#000" stroke-width="1" />
<text x="468.1" y="536.32" font-size="9.5" text-anchor="end" fill="#000" >1.0</text>
<line x1="473.7" y1="619.3" x2="546.7" y2="619.3" stroke="#000" stroke-width="1" />
<line x1="493" y1="619.3" x2="493" y2="622.7" stroke="#000" stroke-width="1" />
<line x1="529.6" y1="619.3" x2="529.6" y2="622.7" stroke="#000" stroke-width="1" />
<text x="510" y="510.4" font-size="9" text-anchor="middle" fill="#000" >Mel624</text>
<text x="493.6" y="632.6" font-size="9.1" text-anchor="end" fill="#000" transform="rotate(-45 493.6 632.6)" >- TG</text>
<text x="530.2" y="632.6" font-size="9.1" text-anchor="end" fill="#000" transform="rotate(-45 530.2 632.6)" >+TG</text>
<circle cx="484.3" cy="532.9" r="2.5" fill="#4c93f2" stroke="#000" stroke-width="0.7" />
<circle cx="488" cy="532.9" r="2.5" fill="#3f8a22" stroke="#000" stroke-width="0.7" />
<circle cx="485.4" cy="532.9" r="2.5" fill="#f06ae8" stroke="#000" stroke-width="0.7" />
<rect x="497" y="574.5" width="4.8" height="4.8" fill="#f5821f" stroke="#000" stroke-width="0.7" />
<rect x="494.8" y="557.8" width="4.8" height="4.8" fill="#f06ae8" stroke="#000" stroke-width="0.7" />
<rect x="499.6" y="557.8" width="4.8" height="4.8" fill="#4c93f2" stroke="#000" stroke-width="0.7" />
<rect x="497" y="549.4" width="4.8" height="4.8" fill="#3f8a22" stroke="#000" stroke-width="0.7" />
<circle cx="522.2" cy="580.1" r="2.5" fill="#f06ae8" stroke="#000" stroke-width="0.7" />
<circle cx="522.2" cy="566.6" r="2.5" fill="#3f8a22" stroke="#000" stroke-width="0.7" />
<circle cx="522.2" cy="559.2" r="2.5" fill="#f5821f" stroke="#000" stroke-width="0.7" />
<circle cx="522.2" cy="535.8" r="2.5" fill="#4c93f2" stroke="#000" stroke-width="0.7" />
<rect x="531.7" y="594.4" width="4.8" height="4.8" fill="#f06ae8" stroke="#000" stroke-width="0.7" />
<rect x="536.2" y="593.1" width="4.8" height="4.8" fill="#f5821f" stroke="#000" stroke-width="0.7" />
<rect x="534" y="577.1" width="4.8" height="4.8" fill="#3f8a22" stroke="#000" stroke-width="0.7" />
<rect x="534" y="568.7" width="4.8" height="4.8" fill="#4c93f2" stroke="#000" stroke-width="0.7" />
<line x1="501" y1="521.3" x2="543.1" y2="521.3" stroke="#111" stroke-width="0.9" />
<text x="522.2" y="523.06" font-size="11.5" text-anchor="middle" fill="#000" stroke="#000" stroke-width="0.25">*</text>
<line x1="524.5" y1="529.4" x2="543.1" y2="529.4" stroke="#111" stroke-width="0.9" />
<text x="533.1" y="531.16" font-size="11.5" text-anchor="middle" fill="#000" stroke="#000" stroke-width="0.25">*</text>
<circle cx="398.5" cy="655.6" r="2.4" fill="#fff" stroke="#000" stroke-width="0.8" />
<text x="417.9" y="658.8" font-size="8.8" text-anchor="start" fill="#000" >- pal</text>
<rect x="395.2" y="666.4" width="5.4" height="5.4" fill="#fff" stroke="#000" stroke-width="0.8" />
<text x="417.9" y="672.2" font-size="8.8" text-anchor="start" fill="#000" >+ pal</text>
</g>
<g id="panel_j">
<text x="545.8" y="492.8" font-size="14.5" text-anchor="start" fill="#000" >J.</text>
<line x1="589.4" y1="506.5" x2="589.4" y2="619.9" stroke="#000" stroke-width="1" />
<line x1="586.4" y1="619.4" x2="589.4" y2="619.4" stroke="#000" stroke-width="1" />
<text x="584" y="622.68" font-size="9.1" text-anchor="end" fill="#000" >0</text>
<line x1="586.4" y1="591.3" x2="589.4" y2="591.3" stroke="#000" stroke-width="1" />
<text x="584" y="594.58" font-size="9.1" text-anchor="end" fill="#000" >2</text>
<line x1="586.4" y1="563.2" x2="589.4" y2="563.2" stroke="#000" stroke-width="1" />
<text x="584" y="566.48" font-size="9.1" text-anchor="end" fill="#000" >4</text>
<line x1="586.4" y1="535.1" x2="589.4" y2="535.1" stroke="#000" stroke-width="1" />
<text x="584" y="538.38" font-size="9.1" text-anchor="end" fill="#000" >6</text>
<line x1="586.4" y1="507" x2="589.4" y2="507" stroke="#000" stroke-width="1" />
<text x="584" y="510.28" font-size="9.1" text-anchor="end" fill="#000" >8</text>
<line x1="589.4" y1="619.4" x2="683.5" y2="619.4" stroke="#000" stroke-width="1" />
<line x1="598.9" y1="619.4" x2="598.9" y2="622.8" stroke="#000" stroke-width="1" />
<line x1="613.9" y1="619.4" x2="613.9" y2="622.8" stroke="#000" stroke-width="1" />
<line x1="628.8" y1="619.4" x2="628.8" y2="622.8" stroke="#000" stroke-width="1" />
<line x1="643.8" y1="619.4" x2="643.8" y2="622.8" stroke="#000" stroke-width="1" />
<line x1="658.8" y1="619.4" x2="658.8" y2="622.8" stroke="#000" stroke-width="1" />
<line x1="673.8" y1="619.4" x2="673.8" y2="622.8" stroke="#000" stroke-width="1" />
<text x="0" y="0" font-size="8.8" text-anchor="middle" transform="translate(571.3 565.1) rotate(-90)">ddCT [<tspan font-style="italic">sXBP1</tspan>]</text>
<text x="601.5" y="630.6" font-size="9" text-anchor="end" fill="#000" transform="rotate(-45 601.5 630.6)" >mock</text>
<text x="616.5" y="630.6" font-size="9" text-anchor="end" fill="#000" transform="rotate(-45 616.5 630.6)" >0.1</text>
<text x="631.4" y="630.6" font-size="9" text-anchor="end" fill="#000" transform="rotate(-45 631.4 630.6)" >1</text>
<text x="646.4" y="630.6" font-size="9" text-anchor="end" fill="#000" transform="rotate(-45 646.4 630.6)" >pal</text>
<text x="661.4" y="630.6" font-size="9" text-anchor="end" fill="#000" transform="rotate(-45 661.4 630.6)" >0.1 + pal</text>
<text x="676.4" y="630.6" font-size="9" text-anchor="end" fill="#000" transform="rotate(-45 676.4 630.6)" >1 + pal</text>
<line x1="613.9" y1="586.5" x2="613.9" y2="595.7" stroke="#000" stroke-width="0.9" />
<line x1="611.7" y1="586.5" x2="616.1" y2="586.5" stroke="#000" stroke-width="0.9" />
<line x1="611.7" y1="595.7" x2="616.1" y2="595.7" stroke="#000" stroke-width="0.9" />
<line x1="609.5" y1="591.4" x2="618.3" y2="591.4" stroke="#000" stroke-width="1.3" />
<line x1="673.8" y1="533.4" x2="673.8" y2="546.4" stroke="#000" stroke-width="0.9" />
<line x1="671.4" y1="533.4" x2="676.2" y2="533.4" stroke="#000" stroke-width="0.9" />
<line x1="671.4" y1="546.4" x2="676.2" y2="546.4" stroke="#000" stroke-width="0.9" />
<line x1="669" y1="540.3" x2="678.6" y2="540.3" stroke="#000" stroke-width="1.3" />
<line x1="624.6" y1="570.6" x2="630.6" y2="570.6" stroke="#000" stroke-width="1.3" />
<circle cx="596.2" cy="607.1" r="2.5" fill="#f5821f" stroke="#000" stroke-width="0.7" />
<circle cx="601.6" cy="606.1" r="2.5" fill="#4c93f2" stroke="#000" stroke-width="0.7" />
<circle cx="598.9" cy="604.4" r="2.5" fill="#3f8a22" stroke="#000" stroke-width="0.7" />
<circle cx="613.9" cy="599.3" r="2.5" fill="#f5821f" stroke="#000" stroke-width="0.7" />
<circle cx="613.9" cy="591.5" r="2.5" fill="#4c93f2" stroke="#000" stroke-width="0.7" />
<circle cx="613.9" cy="583.6" r="2.5" fill="#3f8a22" stroke="#000" stroke-width="0.7" />
<circle cx="626.8" cy="572.4" r="2.5" fill="#4c93f2" stroke="#000" stroke-width="0.7" />
<circle cx="628.8" cy="569.7" r="2.5" fill="#f5821f" stroke="#000" stroke-width="0.7" />
<circle cx="631.2" cy="569" r="2.5" fill="#3f8a22" stroke="#000" stroke-width="0.7" />
<circle cx="641.1" cy="605.4" r="2.5" fill="#f5821f" stroke="#000" stroke-width="0.7" />
<circle cx="646.5" cy="603.7" r="2.5" fill="#4c93f2" stroke="#000" stroke-width="0.7" />
<circle cx="643.8" cy="602" r="2.5" fill="#3f8a22" stroke="#000" stroke-width="0.7" />
<circle cx="658.8" cy="581.2" r="2.5" fill="#4c93f2" stroke="#000" stroke-width="0.7" />
<circle cx="656.4" cy="585.3" r="2.5" fill="#f5821f" stroke="#000" stroke-width="0.7" />
<circle cx="661.2" cy="585" r="2.5" fill="#3f8a22" stroke="#000" stroke-width="0.7" />
<circle cx="674.1" cy="527.5" r="2.5" fill="#4c93f2" stroke="#000" stroke-width="0.7" />
<circle cx="676.1" cy="544.1" r="2.5" fill="#3f8a22" stroke="#000" stroke-width="0.7" />
<circle cx="671.7" cy="548.6" r="2.5" fill="#f5821f" stroke="#000" stroke-width="0.7" />
<line x1="628.8" y1="518.8" x2="674.4" y2="518.8" stroke="#111" stroke-width="0.9" />
<text x="651.3" y="520.94" font-size="13.6" text-anchor="middle" fill="#000" stroke="#000" stroke-width="0.25">***</text>
</g>
</svg>
</body></html>
